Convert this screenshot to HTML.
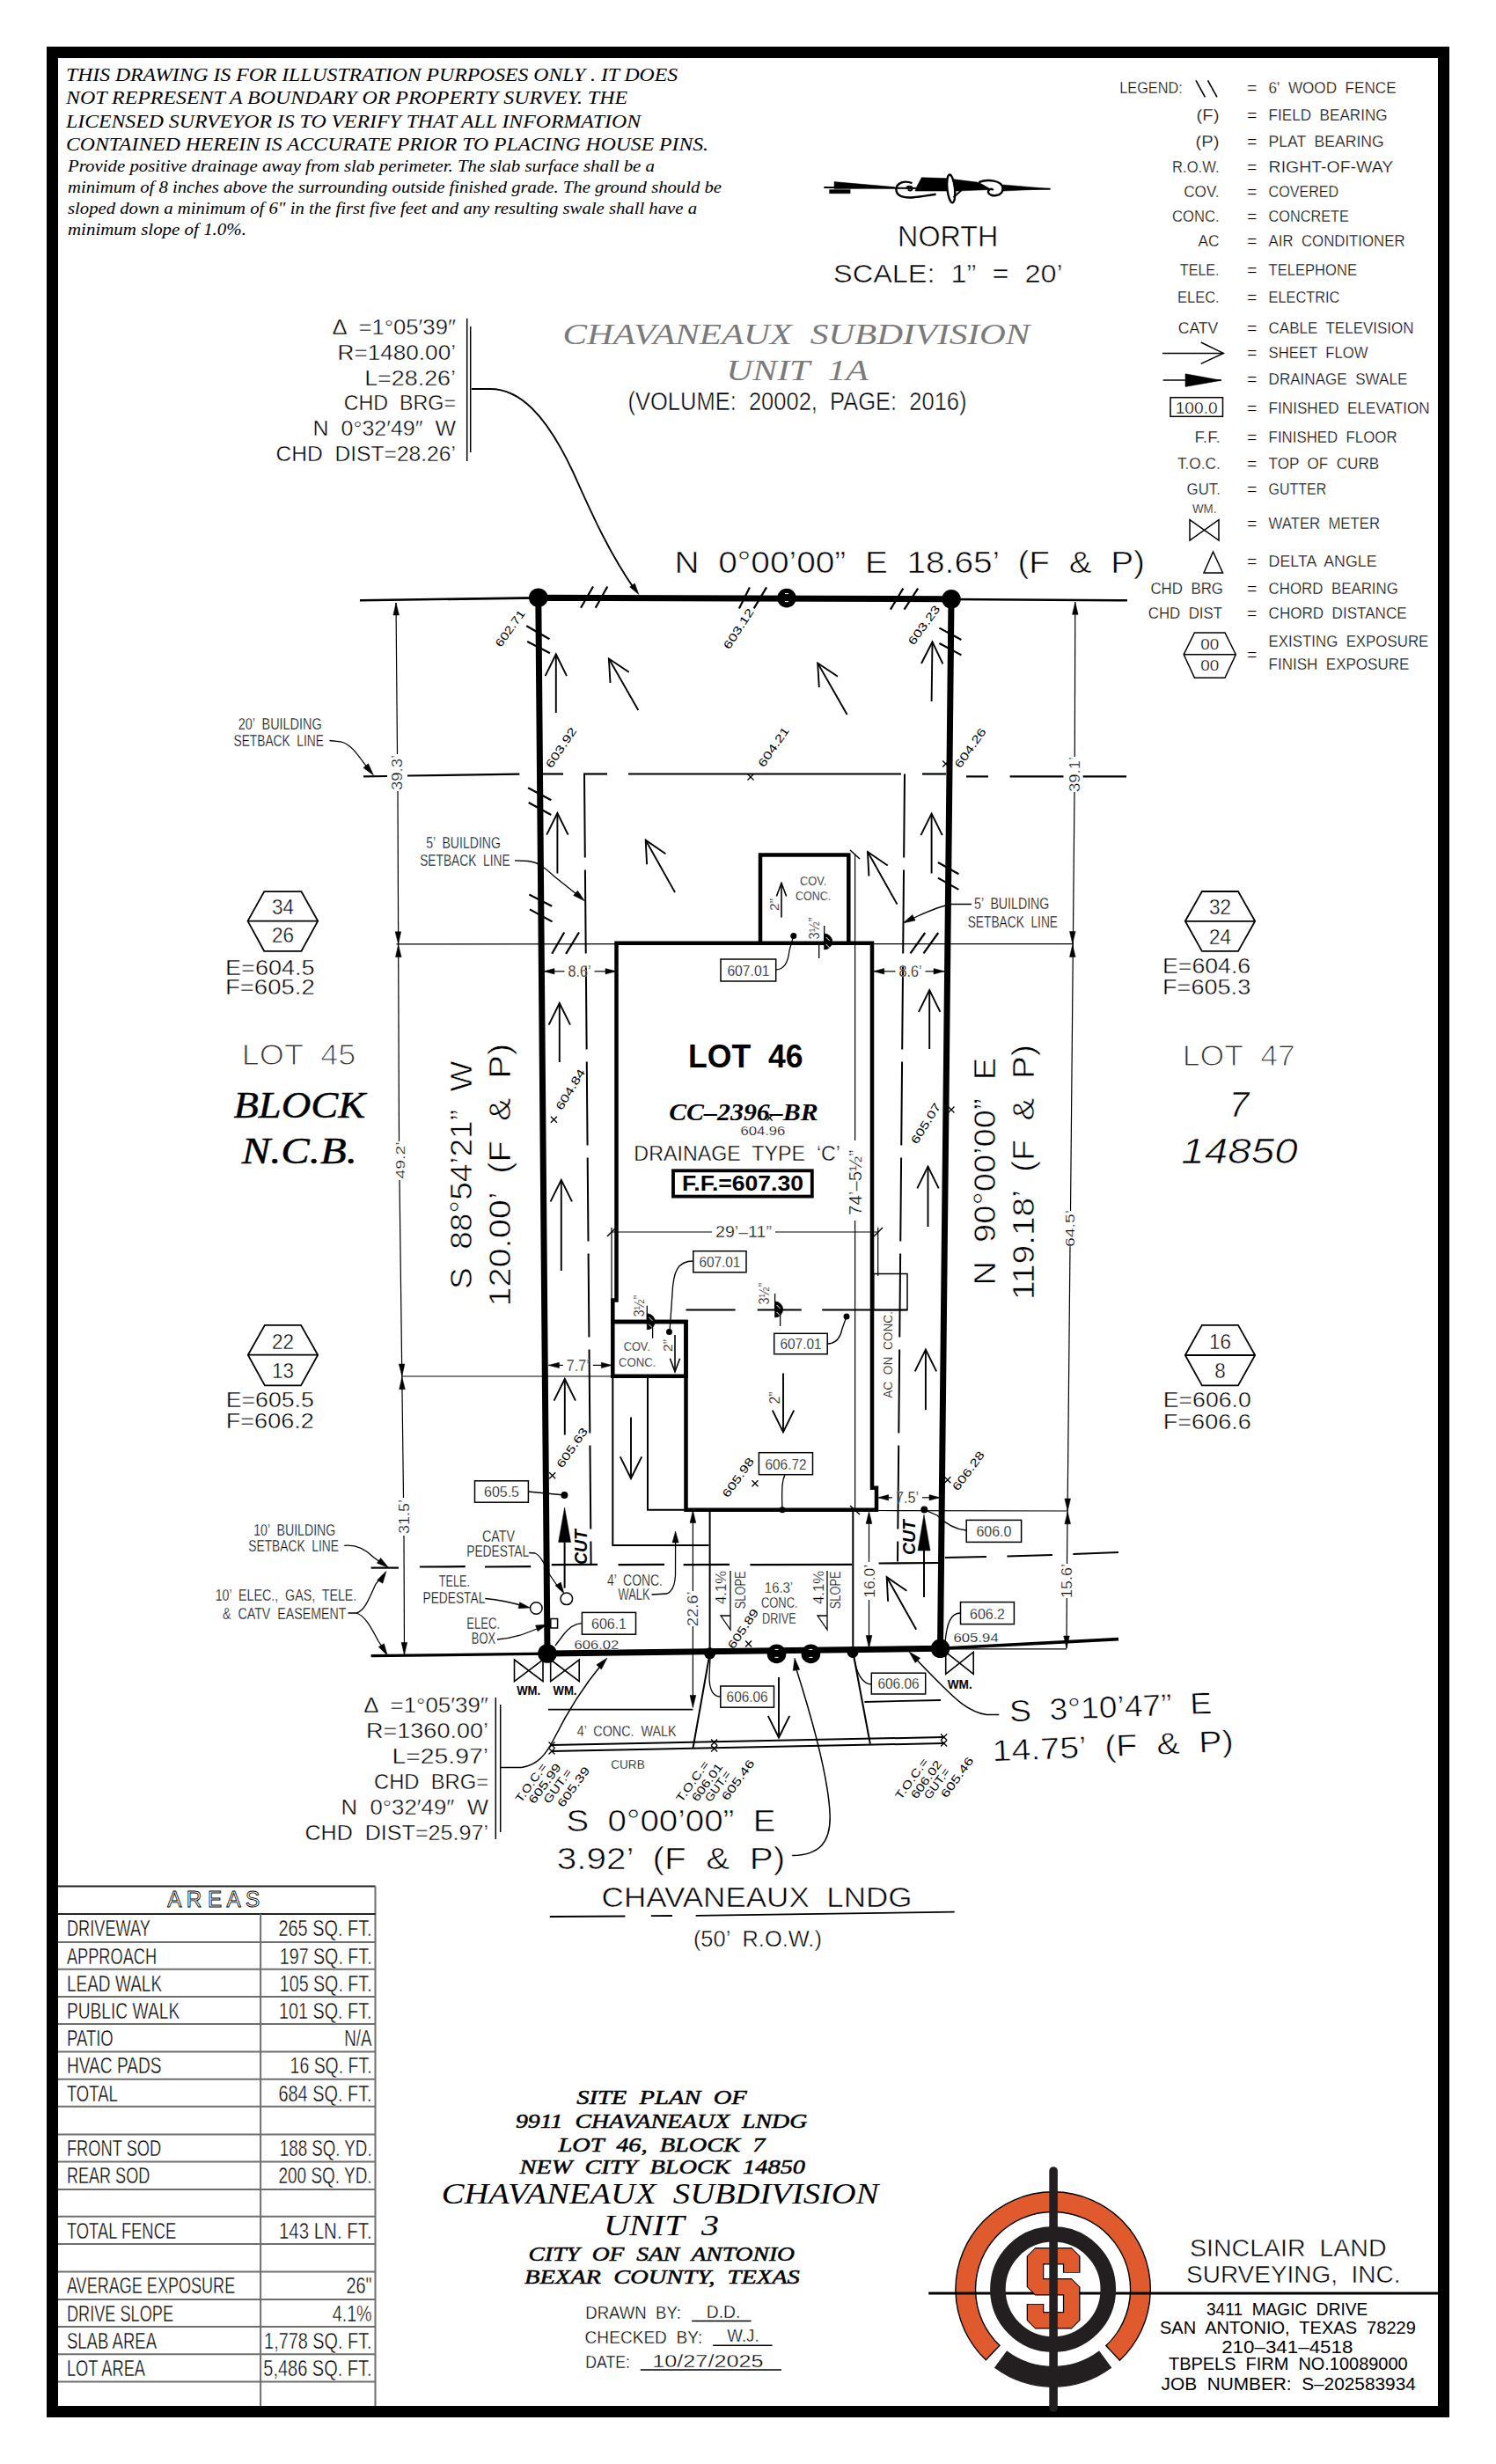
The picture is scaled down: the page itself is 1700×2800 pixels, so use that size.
<!DOCTYPE html>
<html><head><meta charset="utf-8"><title>Site Plan</title>
<style>
html,body{margin:0;padding:0;background:#fff;width:1700px;height:2800px;overflow:hidden}
svg{display:block}
text{white-space:pre}
</style></head><body>
<svg width="1700" height="2800" viewBox="0 0 1700 2800" font-family='"Liberation Sans", sans-serif' xml:space="preserve">
<rect x="0" y="0" width="1700" height="2800" fill="#fff"/>
<rect x="59.5" y="59.5" width="1581.0" height="2681.0" stroke="#000" stroke-width="13" fill="none"/>
<text x="75.0" y="91.5" font-size="22" textLength="695.0" lengthAdjust="spacingAndGlyphs" font-family='"Liberation Serif", serif' font-style="italic">THIS DRAWING IS FOR ILLUSTRATION PURPOSES ONLY . IT DOES</text>
<text x="75.0" y="118.3" font-size="22" textLength="638.0" lengthAdjust="spacingAndGlyphs" font-family='"Liberation Serif", serif' font-style="italic">NOT REPRESENT A BOUNDARY OR PROPERTY SURVEY. THE</text>
<text x="75.0" y="144.5" font-size="22" textLength="653.0" lengthAdjust="spacingAndGlyphs" font-family='"Liberation Serif", serif' font-style="italic">LICENSED SURVEYOR IS TO VERIFY THAT ALL INFORMATION</text>
<text x="75.0" y="171.0" font-size="22" textLength="730.0" lengthAdjust="spacingAndGlyphs" font-family='"Liberation Serif", serif' font-style="italic">CONTAINED HEREIN IS ACCURATE PRIOR TO PLACING HOUSE PINS.</text>
<text x="77.0" y="195.0" font-size="19.5" textLength="667.0" lengthAdjust="spacingAndGlyphs" font-family='"Liberation Serif", serif' font-style="italic">Provide positive drainage away from slab perimeter. The slab surface shall be a</text>
<text x="77.0" y="219.4" font-size="19.5" textLength="743.0" lengthAdjust="spacingAndGlyphs" font-family='"Liberation Serif", serif' font-style="italic">minimum of 8 inches above the surrounding outside finished grade. The ground should be</text>
<text x="77.0" y="242.6" font-size="19.5" textLength="715.0" lengthAdjust="spacingAndGlyphs" font-family='"Liberation Serif", serif' font-style="italic">sloped down a minimum of 6" in the first five feet and any resulting swale shall have a</text>
<text x="77.0" y="267.0" font-size="19.5" textLength="203.0" lengthAdjust="spacingAndGlyphs" font-family='"Liberation Serif", serif' font-style="italic">minimum slope of 1.0%.</text>
<text x="1272.2" y="106.0" font-size="17.5" textLength="71.6" lengthAdjust="spacingAndGlyphs" stroke="#fff" stroke-width="0.32">LEGEND:</text>
<line x1="1359.0" y1="91.4" x2="1369.4" y2="110.4" stroke="#000" stroke-width="1.6"/>
<line x1="1372.5" y1="91.4" x2="1383.0" y2="110.4" stroke="#000" stroke-width="1.6"/>
<text x="1422.7" y="106.0" font-size="17.5" text-anchor="middle" textLength="11.5" lengthAdjust="spacingAndGlyphs" stroke="#fff" stroke-width="0.32">=</text>
<text x="1441.6" y="106.0" font-size="17.5" textLength="145.0" lengthAdjust="spacingAndGlyphs" stroke="#fff" stroke-width="0.32">6'  WOOD  FENCE</text>
<text x="1385.6" y="136.5" font-size="17.5" text-anchor="end" textLength="26.0" lengthAdjust="spacingAndGlyphs" stroke="#fff" stroke-width="0.32">(F)</text>
<text x="1422.7" y="136.5" font-size="17.5" text-anchor="middle" textLength="11.5" lengthAdjust="spacingAndGlyphs" stroke="#fff" stroke-width="0.32">=</text>
<text x="1441.6" y="136.5" font-size="17.5" textLength="135.0" lengthAdjust="spacingAndGlyphs" stroke="#fff" stroke-width="0.32">FIELD  BEARING</text>
<text x="1385.6" y="167.0" font-size="17.5" text-anchor="end" textLength="27.0" lengthAdjust="spacingAndGlyphs" stroke="#fff" stroke-width="0.32">(P)</text>
<text x="1422.7" y="167.0" font-size="17.5" text-anchor="middle" textLength="11.5" lengthAdjust="spacingAndGlyphs" stroke="#fff" stroke-width="0.32">=</text>
<text x="1441.6" y="167.0" font-size="17.5" textLength="131.0" lengthAdjust="spacingAndGlyphs" stroke="#fff" stroke-width="0.32">PLAT  BEARING</text>
<text x="1385.6" y="196.4" font-size="17.5" text-anchor="end" textLength="53.5" lengthAdjust="spacingAndGlyphs" stroke="#fff" stroke-width="0.32">R.O.W.</text>
<text x="1422.7" y="196.4" font-size="17.5" text-anchor="middle" textLength="11.5" lengthAdjust="spacingAndGlyphs" stroke="#fff" stroke-width="0.32">=</text>
<text x="1441.6" y="196.4" font-size="17.5" textLength="141.6" lengthAdjust="spacingAndGlyphs" stroke="#fff" stroke-width="0.32">RIGHT-OF-WAY</text>
<text x="1385.6" y="223.8" font-size="17.5" text-anchor="end" textLength="40.4" lengthAdjust="spacingAndGlyphs" stroke="#fff" stroke-width="0.32">COV.</text>
<text x="1422.7" y="223.8" font-size="17.5" text-anchor="middle" textLength="11.5" lengthAdjust="spacingAndGlyphs" stroke="#fff" stroke-width="0.32">=</text>
<text x="1441.6" y="223.8" font-size="17.5" textLength="79.5" lengthAdjust="spacingAndGlyphs" stroke="#fff" stroke-width="0.32">COVERED</text>
<text x="1385.6" y="251.7" font-size="17.5" text-anchor="end" textLength="53.5" lengthAdjust="spacingAndGlyphs" stroke="#fff" stroke-width="0.32">CONC.</text>
<text x="1422.7" y="251.7" font-size="17.5" text-anchor="middle" textLength="11.5" lengthAdjust="spacingAndGlyphs" stroke="#fff" stroke-width="0.32">=</text>
<text x="1441.6" y="251.7" font-size="17.5" textLength="91.2" lengthAdjust="spacingAndGlyphs" stroke="#fff" stroke-width="0.32">CONCRETE</text>
<text x="1385.6" y="279.9" font-size="17.5" text-anchor="end" textLength="24.0" lengthAdjust="spacingAndGlyphs" stroke="#fff" stroke-width="0.32">AC</text>
<text x="1422.7" y="279.9" font-size="17.5" text-anchor="middle" textLength="11.5" lengthAdjust="spacingAndGlyphs" stroke="#fff" stroke-width="0.32">=</text>
<text x="1441.6" y="279.9" font-size="17.5" textLength="155.0" lengthAdjust="spacingAndGlyphs" stroke="#fff" stroke-width="0.32">AIR  CONDITIONER</text>
<text x="1385.6" y="313.0" font-size="17.5" text-anchor="end" textLength="44.8" lengthAdjust="spacingAndGlyphs" stroke="#fff" stroke-width="0.32">TELE.</text>
<text x="1422.7" y="313.0" font-size="17.5" text-anchor="middle" textLength="11.5" lengthAdjust="spacingAndGlyphs" stroke="#fff" stroke-width="0.32">=</text>
<text x="1441.6" y="313.0" font-size="17.5" textLength="100.4" lengthAdjust="spacingAndGlyphs" stroke="#fff" stroke-width="0.32">TELEPHONE</text>
<text x="1385.6" y="343.7" font-size="17.5" text-anchor="end" textLength="47.5" lengthAdjust="spacingAndGlyphs" stroke="#fff" stroke-width="0.32">ELEC.</text>
<text x="1422.7" y="343.7" font-size="17.5" text-anchor="middle" textLength="11.5" lengthAdjust="spacingAndGlyphs" stroke="#fff" stroke-width="0.32">=</text>
<text x="1441.6" y="343.7" font-size="17.5" textLength="80.8" lengthAdjust="spacingAndGlyphs" stroke="#fff" stroke-width="0.32">ELECTRIC</text>
<text x="1384.3" y="379.0" font-size="17.5" text-anchor="end" textLength="45.6" lengthAdjust="spacingAndGlyphs" stroke="#fff" stroke-width="0.32">CATV</text>
<text x="1422.7" y="379.0" font-size="17.5" text-anchor="middle" textLength="11.5" lengthAdjust="spacingAndGlyphs" stroke="#fff" stroke-width="0.32">=</text>
<text x="1441.6" y="379.0" font-size="17.5" textLength="165.0" lengthAdjust="spacingAndGlyphs" stroke="#fff" stroke-width="0.32">CABLE  TELEVISION</text>
<text x="1422.7" y="407.4" font-size="17.5" text-anchor="middle" textLength="11.5" lengthAdjust="spacingAndGlyphs" stroke="#fff" stroke-width="0.32">=</text>
<text x="1441.6" y="407.4" font-size="17.5" textLength="112.9" lengthAdjust="spacingAndGlyphs" stroke="#fff" stroke-width="0.32">SHEET  FLOW</text>
<line x1="1321.0" y1="401.4" x2="1390.3" y2="401.4" stroke="#000" stroke-width="1.5"/>
<polyline points="1364.7,389.0 1390.3,401.4 1364.7,413.4" stroke="#000" stroke-width="1.5" fill="none"/>
<text x="1422.7" y="436.8" font-size="17.5" text-anchor="middle" textLength="11.5" lengthAdjust="spacingAndGlyphs" stroke="#fff" stroke-width="0.32">=</text>
<text x="1441.6" y="436.8" font-size="17.5" textLength="157.7" lengthAdjust="spacingAndGlyphs" stroke="#fff" stroke-width="0.32">DRAINAGE  SWALE</text>
<line x1="1321.7" y1="432.0" x2="1388.0" y2="432.0" stroke="#000" stroke-width="1.5"/>
<polygon points="1347.0,424.8 1388.0,432.3 1347.0,439.4" stroke="#000" stroke-width="0.5" fill="#000"/>
<text x="1422.7" y="470.0" font-size="17.5" text-anchor="middle" textLength="11.5" lengthAdjust="spacingAndGlyphs" stroke="#fff" stroke-width="0.32">=</text>
<text x="1441.6" y="470.0" font-size="17.5" textLength="183.0" lengthAdjust="spacingAndGlyphs" stroke="#fff" stroke-width="0.32">FINISHED  ELEVATION</text>
<rect x="1330.0" y="451.7" width="59.5" height="21.6" stroke="#000" stroke-width="1.5" fill="none"/>
<text x="1359.7" y="469.5" font-size="17.5" text-anchor="middle" textLength="48.0" lengthAdjust="spacingAndGlyphs" stroke="#fff" stroke-width="0.32">100.0</text>
<text x="1386.9" y="502.5" font-size="17.5" text-anchor="end" textLength="29.5" lengthAdjust="spacingAndGlyphs" stroke="#fff" stroke-width="0.32">F.F.</text>
<text x="1422.7" y="502.5" font-size="17.5" text-anchor="middle" textLength="11.5" lengthAdjust="spacingAndGlyphs" stroke="#fff" stroke-width="0.32">=</text>
<text x="1441.6" y="502.5" font-size="17.5" textLength="146.0" lengthAdjust="spacingAndGlyphs" stroke="#fff" stroke-width="0.32">FINISHED  FLOOR</text>
<text x="1386.9" y="532.5" font-size="17.5" text-anchor="end" textLength="49.0" lengthAdjust="spacingAndGlyphs" stroke="#fff" stroke-width="0.32">T.O.C.</text>
<text x="1422.7" y="532.5" font-size="17.5" text-anchor="middle" textLength="11.5" lengthAdjust="spacingAndGlyphs" stroke="#fff" stroke-width="0.32">=</text>
<text x="1441.6" y="532.5" font-size="17.5" textLength="125.6" lengthAdjust="spacingAndGlyphs" stroke="#fff" stroke-width="0.32">TOP  OF  CURB</text>
<text x="1386.9" y="561.7" font-size="17.5" text-anchor="end" textLength="38.3" lengthAdjust="spacingAndGlyphs" stroke="#fff" stroke-width="0.32">GUT.</text>
<text x="1422.7" y="561.7" font-size="17.5" text-anchor="middle" textLength="11.5" lengthAdjust="spacingAndGlyphs" stroke="#fff" stroke-width="0.32">=</text>
<text x="1441.6" y="561.7" font-size="17.5" textLength="65.7" lengthAdjust="spacingAndGlyphs" stroke="#fff" stroke-width="0.32">GUTTER</text>
<text x="1355.0" y="583.3" font-size="14.5" textLength="27.4" lengthAdjust="spacingAndGlyphs" stroke="#fff" stroke-width="0.26">WM.</text>
<polygon points="1352.0,590.6 1385.0,614.0 1385.0,590.6 1352.0,614.0" stroke="#000" stroke-width="1.5" fill="none"/>
<text x="1422.7" y="601.0" font-size="17.5" text-anchor="middle" textLength="11.5" lengthAdjust="spacingAndGlyphs" stroke="#fff" stroke-width="0.32">=</text>
<text x="1441.6" y="601.0" font-size="17.5" textLength="126.4" lengthAdjust="spacingAndGlyphs" stroke="#fff" stroke-width="0.32">WATER  METER</text>
<polygon points="1378.5,627.0 1389.5,651.0 1368.0,651.0" stroke="#000" stroke-width="1.5" fill="none"/>
<text x="1422.7" y="643.8" font-size="17.5" text-anchor="middle" textLength="11.5" lengthAdjust="spacingAndGlyphs" stroke="#fff" stroke-width="0.32">=</text>
<text x="1441.6" y="643.8" font-size="17.5" textLength="123.0" lengthAdjust="spacingAndGlyphs" stroke="#fff" stroke-width="0.32">DELTA  ANGLE</text>
<text x="1390.0" y="675.4" font-size="17.5" text-anchor="end" textLength="82.6" lengthAdjust="spacingAndGlyphs" stroke="#fff" stroke-width="0.32">CHD  BRG</text>
<text x="1422.7" y="675.4" font-size="17.5" text-anchor="middle" textLength="11.5" lengthAdjust="spacingAndGlyphs" stroke="#fff" stroke-width="0.32">=</text>
<text x="1441.6" y="675.4" font-size="17.5" textLength="147.3" lengthAdjust="spacingAndGlyphs" stroke="#fff" stroke-width="0.32">CHORD  BEARING</text>
<text x="1389.0" y="703.3" font-size="17.5" text-anchor="end" textLength="84.2" lengthAdjust="spacingAndGlyphs" stroke="#fff" stroke-width="0.32">CHD  DIST</text>
<text x="1422.7" y="703.3" font-size="17.5" text-anchor="middle" textLength="11.5" lengthAdjust="spacingAndGlyphs" stroke="#fff" stroke-width="0.32">=</text>
<text x="1441.6" y="703.3" font-size="17.5" textLength="157.0" lengthAdjust="spacingAndGlyphs" stroke="#fff" stroke-width="0.32">CHORD  DISTANCE</text>
<polygon points="1345.2,743.7 1357.4,718.9 1392.0,718.9 1404.3,743.7 1392.0,770.2 1357.4,770.2" stroke="#000" stroke-width="1.5" fill="none"/>
<line x1="1345.2" y1="743.7" x2="1404.3" y2="743.7" stroke="#000" stroke-width="1.5"/>
<text x="1374.7" y="738.4" font-size="16" text-anchor="middle" textLength="21.0" lengthAdjust="spacingAndGlyphs" stroke="#fff" stroke-width="0.29">00</text>
<text x="1374.7" y="762.0" font-size="16" text-anchor="middle" textLength="21.0" lengthAdjust="spacingAndGlyphs" stroke="#fff" stroke-width="0.29">00</text>
<text x="1422.7" y="750.0" font-size="17.5" text-anchor="middle" textLength="11.5" lengthAdjust="spacingAndGlyphs" stroke="#fff" stroke-width="0.32">=</text>
<text x="1441.6" y="734.5" font-size="17.5" textLength="181.7" lengthAdjust="spacingAndGlyphs" stroke="#fff" stroke-width="0.32">EXISTING  EXPOSURE</text>
<text x="1441.6" y="760.6" font-size="17.5" textLength="159.8" lengthAdjust="spacingAndGlyphs" stroke="#fff" stroke-width="0.32">FINISH  EXPOSURE</text>
<line x1="936.3" y1="213.1" x2="1193.5" y2="214.8" stroke="#000" stroke-width="2.0"/>
<polygon points="948.0,206.6 1016.6,212.6 1016.6,213.6 948.0,214.6" stroke="#000" stroke-width="0.5" fill="#000"/>
<polygon points="942.6,215.6 966.1,215.6 966.1,219.8 942.6,219.8" stroke="#000" stroke-width="0.5" fill="#000"/>
<polygon points="1139.4,209.9 1193.5,214.6 1139.4,217.1" stroke="#000" stroke-width="0.5" fill="#000"/>
<polygon points="1047.3,201.7 1074.4,202.6 1110.5,207.1 1130.4,213.1 1130.4,215.3 1087.0,217.1 1040.0,217.1 1042.0,211.7" stroke="#000" stroke-width="0.5" fill="#000"/>
<path d="M1036.5,208.1 C1027.5,204.4 1018.4,208.1 1018.4,215.3 C1018.4,223.4 1027.5,225.2 1038.3,224.3 C1047.3,223.4 1056.4,221.6 1063.6,220.7" stroke="#000" stroke-width="2.4" fill="none"/>
<path d="M1030.2,214.4 C1030.2,210.8 1036.5,210.8 1036.5,214 C1036.5,217.1 1032.9,217.1 1032,215.3" stroke="#000" stroke-width="2.0" fill="none"/>
<path d="M1112.3,207.1 C1121.3,203.5 1139.4,204.4 1139.4,214.4 C1139.4,223.4 1125,224.3 1123.1,218.9 C1122.2,215.3 1126.8,213.5 1128.6,216.2" stroke="#000" stroke-width="2.4" fill="#fff"/>
<ellipse cx="1080.7" cy="214.4" rx="4.3" ry="16" fill="#fff" stroke="#000" stroke-width="2.4" transform="rotate(-6 1080.7 214.4)"/>
<line x1="1083.4" y1="224.3" x2="1092.5" y2="216.2" stroke="#000" stroke-width="2.0"/>
<text x="1077.2" y="280.3" font-size="34" text-anchor="middle" textLength="114.3" lengthAdjust="spacingAndGlyphs" stroke="#fff" stroke-width="0.61">NORTH</text>
<text x="1077.4" y="320.7" font-size="29" text-anchor="middle" textLength="260.7" lengthAdjust="spacingAndGlyphs" stroke="#fff" stroke-width="0.52">SCALE:  1”  =  20’</text>
<text x="904.9" y="391.2" font-size="34" text-anchor="middle" textLength="530.8" lengthAdjust="spacingAndGlyphs" font-family='"Liberation Serif", serif' font-style="italic" fill="#7a7a7a">CHAVANEAUX  SUBDIVISION</text>
<text x="906.0" y="431.6" font-size="34" text-anchor="middle" textLength="161.7" lengthAdjust="spacingAndGlyphs" font-family='"Liberation Serif", serif' font-style="italic" fill="#7a7a7a">UNIT  1A</text>
<text x="906.0" y="466.0" font-size="29.5" text-anchor="middle" textLength="385.0" lengthAdjust="spacingAndGlyphs" stroke="#fff" stroke-width="0.53">(VOLUME:  20002,  PAGE:  2016)</text>
<text x="518.0" y="380.0" font-size="23" text-anchor="end" textLength="140.5" lengthAdjust="spacingAndGlyphs" stroke="#fff" stroke-width="0.41">Δ  =1°05′39″</text>
<text x="518.0" y="408.7" font-size="23" text-anchor="end" textLength="134.5" lengthAdjust="spacingAndGlyphs" stroke="#fff" stroke-width="0.41">R=1480.00’</text>
<text x="518.0" y="438.0" font-size="23" text-anchor="end" textLength="103.8" lengthAdjust="spacingAndGlyphs" stroke="#fff" stroke-width="0.41">L=28.26’</text>
<text x="518.0" y="465.8" font-size="23" text-anchor="end" textLength="127.2" lengthAdjust="spacingAndGlyphs" stroke="#fff" stroke-width="0.41">CHD  BRG=</text>
<text x="518.0" y="495.0" font-size="23" text-anchor="end" textLength="162.4" lengthAdjust="spacingAndGlyphs" stroke="#fff" stroke-width="0.41">N  0°32′49″  W</text>
<text x="518.0" y="523.9" font-size="23" text-anchor="end" textLength="204.6" lengthAdjust="spacingAndGlyphs" stroke="#fff" stroke-width="0.41">CHD  DIST=28.26’</text>
<line x1="530.7" y1="362.0" x2="530.7" y2="524.0" stroke="#000" stroke-width="1.5"/>
<line x1="534.7" y1="371.0" x2="534.7" y2="514.0" stroke="#000" stroke-width="1.5"/>
<path d="M535.9,442 L557,442 C590,442 620,470 651,536 C670,578 690,625 722,671" stroke="#000" stroke-width="1.8" fill="none"/>
<polygon points="725.9,675.5 721.3,662.9 715.6,666.9" stroke="#000" stroke-width="0.5" fill="#000"/>
<line x1="409.0" y1="682.2" x2="611.0" y2="679.4" stroke="#000" stroke-width="2.6"/>
<line x1="1081.0" y1="681.0" x2="1281.0" y2="682.3" stroke="#000" stroke-width="2.6"/>
<line x1="421.6" y1="1881.6" x2="622.0" y2="1879.2" stroke="#000" stroke-width="3.2"/>
<line x1="1068.5" y1="1873.2" x2="1271.0" y2="1862.6" stroke="#000" stroke-width="3.6"/>
<line x1="1068.5" y1="1873.8" x2="1212.0" y2="1873.8" stroke="#000" stroke-width="1.2"/>
<polygon points="611.8,679.2 1081.0,680.8 1068.5,1873.3 622.0,1879.0" stroke="#000" stroke-width="7" fill="none" stroke-linejoin="round"/>
<line x1="839.9" y1="691.4" x2="851.9" y2="667.4" stroke="#000" stroke-width="2.2"/>
<line x1="856.7" y1="691.4" x2="871.1" y2="667.4" stroke="#000" stroke-width="2.2"/>
<line x1="1011.9" y1="692.6" x2="1026.3" y2="668.6" stroke="#000" stroke-width="2.2"/>
<line x1="1027.5" y1="692.6" x2="1043.2" y2="668.6" stroke="#000" stroke-width="2.2"/>
<line x1="660.0" y1="690.8" x2="674.0" y2="666.5" stroke="#000" stroke-width="2.2"/>
<line x1="676.7" y1="690.8" x2="690.3" y2="666.5" stroke="#000" stroke-width="2.2"/>
<line x1="598.3" y1="711.3" x2="624.4" y2="726.3" stroke="#000" stroke-width="2.2"/>
<line x1="599.2" y1="729.0" x2="625.0" y2="742.2" stroke="#000" stroke-width="2.2"/>
<line x1="600.1" y1="895.3" x2="626.3" y2="909.3" stroke="#000" stroke-width="2.2"/>
<line x1="600.7" y1="912.0" x2="626.3" y2="926.0" stroke="#000" stroke-width="2.2"/>
<line x1="601.4" y1="1016.6" x2="627.2" y2="1029.7" stroke="#000" stroke-width="2.2"/>
<line x1="602.0" y1="1033.4" x2="627.6" y2="1047.4" stroke="#000" stroke-width="2.2"/>
<line x1="627.2" y1="1083.8" x2="641.2" y2="1059.5" stroke="#000" stroke-width="2.2"/>
<line x1="643.1" y1="1083.8" x2="658.0" y2="1059.5" stroke="#000" stroke-width="2.2"/>
<line x1="1067.4" y1="713.6" x2="1092.4" y2="727.0" stroke="#000" stroke-width="2.2"/>
<line x1="1067.4" y1="731.0" x2="1092.4" y2="744.4" stroke="#000" stroke-width="2.2"/>
<line x1="1065.9" y1="980.0" x2="1089.4" y2="993.2" stroke="#000" stroke-width="2.2"/>
<line x1="1065.9" y1="997.6" x2="1089.4" y2="1010.9" stroke="#000" stroke-width="2.2"/>
<line x1="1034.5" y1="1083.4" x2="1051.2" y2="1060.0" stroke="#000" stroke-width="2.2"/>
<line x1="1049.5" y1="1083.4" x2="1066.2" y2="1060.0" stroke="#000" stroke-width="2.2"/>
<circle cx="611.8" cy="679.2" r="10.8" fill="#000"/>
<circle cx="1081.0" cy="680.8" r="10.8" fill="#000"/>
<circle cx="894.0" cy="679.6" r="10.8" fill="#000"/>
<circle cx="622.0" cy="1879.0" r="10.8" fill="#000"/>
<circle cx="1068.5" cy="1873.3" r="10.8" fill="#000"/>
<circle cx="882.5" cy="1879.4" r="10.8" fill="#000"/>
<circle cx="921.4" cy="1879.4" r="10.8" fill="#000"/>
<line x1="892.0" y1="674.6" x2="896.0" y2="674.6" stroke="#fff" stroke-width="1.0"/>
<line x1="892.0" y1="683.6" x2="896.0" y2="683.6" stroke="#fff" stroke-width="1.0"/>
<line x1="880.5" y1="1874.4" x2="884.5" y2="1874.4" stroke="#fff" stroke-width="1.0"/>
<line x1="880.5" y1="1883.4" x2="884.5" y2="1883.4" stroke="#fff" stroke-width="1.0"/>
<line x1="919.4" y1="1874.4" x2="923.4" y2="1874.4" stroke="#fff" stroke-width="1.0"/>
<line x1="919.4" y1="1883.4" x2="923.4" y2="1883.4" stroke="#fff" stroke-width="1.0"/>
<circle cx="806.6" cy="1878.8" r="6.5" fill="#000"/>
<circle cx="969.0" cy="1877.5" r="6.5" fill="#000"/>
<text x="766.5" y="650.8" font-size="35" textLength="534.5" lengthAdjust="spacingAndGlyphs" stroke="#fff" stroke-width="0.63">N  0°00’00”  E  18.65’  (F  &amp;  P)</text>
<text x="535.5" y="1465.0" font-size="35" textLength="259.4" lengthAdjust="spacingAndGlyphs" transform="rotate(-90 535.5 1465.0)" stroke="#fff" stroke-width="0.63">S  88°54’21”  W</text>
<text x="579.6" y="1484.7" font-size="35" textLength="299.0" lengthAdjust="spacingAndGlyphs" transform="rotate(-90 579.6 1484.7)" stroke="#fff" stroke-width="0.63">120.00’  (F  &amp;  P)</text>
<text x="1130.6" y="1460.6" font-size="35" textLength="258.8" lengthAdjust="spacingAndGlyphs" transform="rotate(-90 1130.6 1460.6)" stroke="#fff" stroke-width="0.63">N  90°00’00”  E</text>
<text x="1174.7" y="1477.0" font-size="35" textLength="290.0" lengthAdjust="spacingAndGlyphs" transform="rotate(-90 1174.7 1477.0)" stroke="#fff" stroke-width="0.63">119.18’  (F  &amp;  P)</text>
<text x="1147.4" y="1956.5" font-size="34.5" textLength="230.5" lengthAdjust="spacingAndGlyphs" transform="rotate(-2.4 1147.4 1956.5)" stroke="#fff" stroke-width="0.62">S  3°10’47”  E</text>
<text x="1128.1" y="2001.5" font-size="34.5" textLength="274.3" lengthAdjust="spacingAndGlyphs" transform="rotate(-2.4 1128.1 2001.5)" stroke="#fff" stroke-width="0.62">14.75’  (F  &amp;  P)</text>
<text x="643.5" y="2080.7" font-size="34.5" textLength="238.0" lengthAdjust="spacingAndGlyphs" stroke="#fff" stroke-width="0.62">S  0°00’00”  E</text>
<text x="632.8" y="2123.5" font-size="34.5" textLength="259.4" lengthAdjust="spacingAndGlyphs" stroke="#fff" stroke-width="0.62">3.92’  (F  &amp;  P)</text>
<text x="339.6" y="1210.4" font-size="33" text-anchor="middle" textLength="129.7" lengthAdjust="spacingAndGlyphs" fill="#333" stroke="#fff" stroke-width="1.1">LOT  45</text>
<text x="340.3" y="1269.8" font-size="42" text-anchor="middle" textLength="149.7" lengthAdjust="spacingAndGlyphs" font-family='"Liberation Serif", serif' font-style="italic" stroke="#000" stroke-width="0.45">BLOCK</text>
<text x="340.3" y="1322.0" font-size="42" text-anchor="middle" textLength="131.0" lengthAdjust="spacingAndGlyphs" font-family='"Liberation Serif", serif' font-style="italic" stroke="#000" stroke-width="0.45">N.C.B.</text>
<text x="1407.8" y="1210.6" font-size="33" text-anchor="middle" textLength="128.0" lengthAdjust="spacingAndGlyphs" fill="#333" stroke="#fff" stroke-width="1.1">LOT  47</text>
<text x="1408.0" y="1269.4" font-size="40" text-anchor="middle" textLength="22.6" lengthAdjust="spacingAndGlyphs" font-style="italic" stroke="#fff" stroke-width="0.72">7</text>
<text x="1408.5" y="1322.4" font-size="41" text-anchor="middle" textLength="132.3" lengthAdjust="spacingAndGlyphs" font-style="italic" stroke="#fff" stroke-width="0.74">14850</text>
<polygon points="281.5,1046.6 300.2,1013.2 342.5,1013.2 361.2,1046.6 342.5,1080.8 300.2,1080.8" stroke="#000" stroke-width="1.8" fill="none"/>
<line x1="281.5" y1="1046.6" x2="361.2" y2="1046.6" stroke="#000" stroke-width="1.8"/>
<text x="321.4" y="1039.4" font-size="24" text-anchor="middle" textLength="25.0" lengthAdjust="spacingAndGlyphs" stroke="#fff" stroke-width="0.43">34</text>
<text x="321.4" y="1071.4" font-size="24" text-anchor="middle" textLength="25.0" lengthAdjust="spacingAndGlyphs" stroke="#fff" stroke-width="0.43">26</text>
<text x="256.0" y="1107.5" font-size="24" textLength="101.7" lengthAdjust="spacingAndGlyphs" stroke="#fff" stroke-width="0.43">E=604.5</text>
<text x="256.0" y="1130.0" font-size="24" textLength="101.7" lengthAdjust="spacingAndGlyphs" stroke="#fff" stroke-width="0.43">F=605.2</text>
<polygon points="1346.8,1046.8 1365.9,1013.0 1407.0,1013.0 1426.2,1046.8 1407.0,1080.9 1365.9,1080.9" stroke="#000" stroke-width="1.8" fill="none"/>
<line x1="1346.8" y1="1046.8" x2="1426.2" y2="1046.8" stroke="#000" stroke-width="1.8"/>
<text x="1386.5" y="1039.4" font-size="24" text-anchor="middle" textLength="25.0" lengthAdjust="spacingAndGlyphs" stroke="#fff" stroke-width="0.43">32</text>
<text x="1386.5" y="1072.6" font-size="24" text-anchor="middle" textLength="25.0" lengthAdjust="spacingAndGlyphs" stroke="#fff" stroke-width="0.43">24</text>
<text x="1321.0" y="1106.2" font-size="24" textLength="100.2" lengthAdjust="spacingAndGlyphs" stroke="#fff" stroke-width="0.43">E=604.6</text>
<text x="1321.0" y="1129.7" font-size="24" textLength="100.2" lengthAdjust="spacingAndGlyphs" stroke="#fff" stroke-width="0.43">F=605.3</text>
<polygon points="281.8,1539.7 300.9,1505.9 342.0,1505.9 361.2,1539.7 342.0,1574.4 300.9,1574.4" stroke="#000" stroke-width="1.8" fill="none"/>
<line x1="281.8" y1="1539.7" x2="361.2" y2="1539.7" stroke="#000" stroke-width="1.8"/>
<text x="321.5" y="1533.2" font-size="24" text-anchor="middle" textLength="25.0" lengthAdjust="spacingAndGlyphs" stroke="#fff" stroke-width="0.43">22</text>
<text x="321.5" y="1565.6" font-size="24" text-anchor="middle" textLength="25.0" lengthAdjust="spacingAndGlyphs" stroke="#fff" stroke-width="0.43">13</text>
<text x="256.8" y="1599.4" font-size="24" textLength="100.0" lengthAdjust="spacingAndGlyphs" stroke="#fff" stroke-width="0.43">E=605.5</text>
<text x="256.8" y="1623.0" font-size="24" textLength="100.0" lengthAdjust="spacingAndGlyphs" stroke="#fff" stroke-width="0.43">F=606.2</text>
<polygon points="1346.8,1540.0 1365.9,1505.9 1407.0,1505.9 1426.2,1540.0 1407.0,1574.4 1365.9,1574.4" stroke="#000" stroke-width="1.8" fill="none"/>
<line x1="1346.8" y1="1540.0" x2="1426.2" y2="1540.0" stroke="#000" stroke-width="1.8"/>
<text x="1386.5" y="1533.2" font-size="24" text-anchor="middle" textLength="25.0" lengthAdjust="spacingAndGlyphs" stroke="#fff" stroke-width="0.43">16</text>
<text x="1386.5" y="1565.6" font-size="24" text-anchor="middle" textLength="12.5" lengthAdjust="spacingAndGlyphs" stroke="#fff" stroke-width="0.43">8</text>
<text x="1321.8" y="1599.4" font-size="24" textLength="100.0" lengthAdjust="spacingAndGlyphs" stroke="#fff" stroke-width="0.43">E=606.0</text>
<text x="1321.8" y="1623.5" font-size="24" textLength="100.0" lengthAdjust="spacingAndGlyphs" stroke="#fff" stroke-width="0.43">F=606.6</text>
<line x1="450.0" y1="685.0" x2="451.5" y2="857.0" stroke="#000" stroke-width="1.2"/>
<line x1="452.0" y1="899.0" x2="453.5" y2="1297.0" stroke="#000" stroke-width="1.2"/>
<line x1="454.0" y1="1341.0" x2="458.5" y2="1702.0" stroke="#000" stroke-width="1.2"/>
<line x1="459.0" y1="1745.0" x2="459.5" y2="1880.0" stroke="#000" stroke-width="1.2"/>
<polygon points="450.0,685.0 446.9,699.0 453.5,699.0" stroke="#000" stroke-width="0.5" fill="#000"/>
<polygon points="452.6,1072.8 455.7,1058.8 449.1,1058.8" stroke="#000" stroke-width="0.5" fill="#000"/>
<polygon points="452.6,1073.6 449.5,1087.6 456.1,1087.6" stroke="#000" stroke-width="0.5" fill="#000"/>
<polygon points="456.8,1564.0 459.9,1550.0 453.3,1550.0" stroke="#000" stroke-width="0.5" fill="#000"/>
<polygon points="456.8,1564.8 453.7,1578.8 460.3,1578.8" stroke="#000" stroke-width="0.5" fill="#000"/>
<polygon points="459.5,1880.5 462.7,1866.5 456.1,1866.5" stroke="#000" stroke-width="0.5" fill="#000"/>
<text x="451.6" y="878.0" font-size="17" text-anchor="middle" textLength="40.0" lengthAdjust="spacingAndGlyphs" transform="rotate(-90 451.6 878.0)" stroke="#fff" stroke-width="0.31" dominant-baseline="central">39.3’</text>
<text x="454.0" y="1318.5" font-size="15" text-anchor="middle" textLength="42.0" lengthAdjust="spacingAndGlyphs" transform="rotate(-90 454.0 1318.5)" stroke="#fff" stroke-width="0.27" dominant-baseline="central">49.2’</text>
<text x="459.0" y="1723.5" font-size="17" text-anchor="middle" textLength="39.0" lengthAdjust="spacingAndGlyphs" transform="rotate(-90 459.0 1723.5)" stroke="#fff" stroke-width="0.31" dominant-baseline="central">31.5’</text>
<line x1="1221.8" y1="684.0" x2="1221.3" y2="860.0" stroke="#000" stroke-width="1.2"/>
<line x1="1221.0" y1="900.0" x2="1216.5" y2="1376.0" stroke="#000" stroke-width="1.2"/>
<line x1="1216.0" y1="1416.0" x2="1212.5" y2="1777.0" stroke="#000" stroke-width="1.2"/>
<line x1="1212.3" y1="1816.0" x2="1212.0" y2="1873.0" stroke="#000" stroke-width="1.2"/>
<polygon points="1221.8,684.3 1218.5,698.3 1225.1,698.3" stroke="#000" stroke-width="0.5" fill="#000"/>
<polygon points="1218.8,1072.6 1222.1,1058.6 1215.5,1058.6" stroke="#000" stroke-width="0.5" fill="#000"/>
<polygon points="1218.8,1073.4 1215.5,1087.4 1222.1,1087.4" stroke="#000" stroke-width="0.5" fill="#000"/>
<polygon points="1213.2,1717.0 1216.5,1703.0 1209.9,1703.0" stroke="#000" stroke-width="0.5" fill="#000"/>
<polygon points="1213.2,1717.8 1209.9,1731.8 1216.5,1731.8" stroke="#000" stroke-width="0.5" fill="#000"/>
<polygon points="1212.0,1873.0 1215.3,1859.0 1208.7,1859.0" stroke="#000" stroke-width="0.5" fill="#000"/>
<text x="1221.0" y="880.0" font-size="17" text-anchor="middle" textLength="40.0" lengthAdjust="spacingAndGlyphs" transform="rotate(-90 1221.0 880.0)" stroke="#fff" stroke-width="0.31" dominant-baseline="central">39.1’</text>
<text x="1215.9" y="1396.0" font-size="15" text-anchor="middle" textLength="42.0" lengthAdjust="spacingAndGlyphs" transform="rotate(-90 1215.9 1396.0)" stroke="#fff" stroke-width="0.27" dominant-baseline="central">64.5’</text>
<text x="1212.5" y="1796.5" font-size="17" text-anchor="middle" textLength="39.0" lengthAdjust="spacingAndGlyphs" transform="rotate(-90 1212.5 1796.5)" stroke="#fff" stroke-width="0.31" dominant-baseline="central">15.6’</text>
<line x1="450.5" y1="1072.8" x2="1219.0" y2="1072.6" stroke="#000" stroke-width="1.2"/>
<line x1="456.8" y1="1564.0" x2="696.0" y2="1564.0" stroke="#000" stroke-width="1.2"/>
<line x1="996.0" y1="1716.5" x2="1213.0" y2="1717.0" stroke="#000" stroke-width="1.2"/>
<line x1="413.0" y1="882.4" x2="440.0" y2="882.0" stroke="#000" stroke-width="2.2"/>
<line x1="463.0" y1="881.5" x2="590.3" y2="879.7" stroke="#000" stroke-width="2.2"/>
<line x1="617.0" y1="879.5" x2="640.0" y2="879.5" stroke="#000" stroke-width="2.2"/>
<line x1="663.0" y1="879.5" x2="690.0" y2="879.5" stroke="#000" stroke-width="2.2"/>
<line x1="714.0" y1="879.5" x2="1024.0" y2="879.5" stroke="#000" stroke-width="2.2"/>
<line x1="1048.0" y1="879.5" x2="1075.0" y2="879.5" stroke="#000" stroke-width="2.2"/>
<line x1="1098.0" y1="882.4" x2="1123.0" y2="882.4" stroke="#000" stroke-width="2.2"/>
<line x1="1147.6" y1="882.4" x2="1208.5" y2="882.4" stroke="#000" stroke-width="2.2"/>
<line x1="1230.6" y1="882.4" x2="1280.0" y2="882.4" stroke="#000" stroke-width="2.2"/>
<line x1="421.6" y1="1781.6" x2="453.0" y2="1781.6" stroke="#000" stroke-width="2.2"/>
<line x1="476.9" y1="1780.5" x2="528.8" y2="1780.2" stroke="#000" stroke-width="2.2"/>
<line x1="551.0" y1="1780.5" x2="603.2" y2="1780.2" stroke="#000" stroke-width="2.2"/>
<line x1="626.8" y1="1778.2" x2="679.0" y2="1777.8" stroke="#000" stroke-width="2.2"/>
<line x1="702.6" y1="1778.2" x2="755.0" y2="1777.8" stroke="#000" stroke-width="2.2"/>
<line x1="776.6" y1="1778.2" x2="829.0" y2="1777.8" stroke="#000" stroke-width="2.2"/>
<line x1="852.4" y1="1778.2" x2="968.0" y2="1777.8" stroke="#000" stroke-width="2.2"/>
<line x1="998.6" y1="1776.5" x2="1067.0" y2="1776.0" stroke="#000" stroke-width="2.2"/>
<line x1="1073.8" y1="1770.0" x2="1120.9" y2="1769.0" stroke="#000" stroke-width="2.2"/>
<line x1="1144.4" y1="1768.5" x2="1195.9" y2="1767.0" stroke="#000" stroke-width="2.2"/>
<line x1="1219.4" y1="1766.0" x2="1271.0" y2="1764.0" stroke="#000" stroke-width="2.2"/>
<line x1="664" y1="879.5" x2="671.6" y2="1778" stroke="#000" stroke-width="2" stroke-dasharray="95 14"/>
<line x1="1028" y1="879.5" x2="1020" y2="1774.5" stroke="#000" stroke-width="2" stroke-dasharray="95 14"/>
<polygon points="700.5,1071.7 991.0,1071.7 991.0,1690.8 996.0,1690.8 996.0,1715.8 779.5,1715.8 779.5,1502.0 696.3,1502.0 696.3,1477.5 700.5,1477.5 700.5,1071.7" stroke="#000" stroke-width="4.5" fill="none"/>
<rect x="696.3" y="1502.0" width="83.2" height="61.8" stroke="#000" stroke-width="4.5" fill="none"/>
<polyline points="864.0,1071.7 864.0,971.4 964.3,971.4 964.3,1071.7" stroke="#000" stroke-width="4.5" fill="none"/>
<polyline points="696.3,1563.8 696.3,1756.0 805.5,1756.0" stroke="#000" stroke-width="2" fill="none"/>
<polyline points="736.0,1566.0 736.0,1715.8 779.5,1715.8" stroke="#000" stroke-width="2" fill="none"/>
<line x1="779.5" y1="1488.6" x2="835.6" y2="1488.6" stroke="#000" stroke-width="2"/>
<line x1="860.7" y1="1488.6" x2="910.8" y2="1488.6" stroke="#000" stroke-width="2"/>
<line x1="934.2" y1="1488.6" x2="1031.0" y2="1488.6" stroke="#000" stroke-width="2"/>
<rect x="992.7" y="1447.5" width="38.3" height="41.1" stroke="#000" stroke-width="1.5" fill="none"/>
<line x1="806.6" y1="1715.8" x2="806.6" y2="1878.8" stroke="#000" stroke-width="2"/>
<line x1="806.6" y1="1878.8" x2="787.4" y2="1987.0" stroke="#000" stroke-width="2"/>
<line x1="969.3" y1="1715.8" x2="969.3" y2="1877.5" stroke="#000" stroke-width="2"/>
<line x1="969.3" y1="1877.5" x2="988.9" y2="1981.7" stroke="#000" stroke-width="2"/>
<line x1="971.6" y1="970.8" x2="971.6" y2="1296.0" stroke="#000" stroke-width="1.2"/>
<line x1="971.6" y1="1387.0" x2="971.6" y2="1715.8" stroke="#000" stroke-width="1.2"/>
<line x1="966.0" y1="966.0" x2="977.0" y2="976.0" stroke="#000" stroke-width="1.5"/>
<line x1="966.0" y1="1711.0" x2="977.0" y2="1721.0" stroke="#000" stroke-width="1.5"/>
<line x1="695.0" y1="1400.0" x2="809.0" y2="1400.0" stroke="#000" stroke-width="1.2"/>
<line x1="881.0" y1="1400.0" x2="997.7" y2="1400.0" stroke="#000" stroke-width="1.2"/>
<line x1="690.0" y1="1405.0" x2="700.0" y2="1395.0" stroke="#000" stroke-width="1.5"/>
<line x1="993.0" y1="1405.0" x2="1003.0" y2="1395.0" stroke="#000" stroke-width="1.5"/>
<line x1="695.0" y1="1395.0" x2="695.0" y2="1477.0" stroke="#000" stroke-width="1.2"/>
<line x1="997.7" y1="1395.0" x2="997.7" y2="1450.0" stroke="#000" stroke-width="1.2"/>
<text x="845.0" y="1406.0" font-size="17.5" text-anchor="middle" textLength="64.0" lengthAdjust="spacingAndGlyphs" stroke="#fff" stroke-width="0.32">29’–11”</text>
<text x="978.5" y="1381.0" font-size="20" textLength="74.0" lengthAdjust="spacingAndGlyphs" transform="rotate(-90 978.5 1381.0)" stroke="#fff" stroke-width="0.36">74’–5½”</text>
<line x1="618.0" y1="1103.8" x2="641.5" y2="1103.8" stroke="#000" stroke-width="1.2"/>
<line x1="675.5" y1="1103.8" x2="700.0" y2="1103.8" stroke="#000" stroke-width="1.2"/>
<polygon points="618.0,1103.8 630.0,1107.0 630.0,1100.6" stroke="#000" stroke-width="0.5" fill="#000"/>
<polygon points="700.0,1103.8 688.0,1100.6 688.0,1107.0" stroke="#000" stroke-width="0.5" fill="#000"/>
<text x="658.5" y="1110.3" font-size="18" text-anchor="middle" textLength="26.0" lengthAdjust="spacingAndGlyphs" stroke="#fff" stroke-width="0.32">8.6’</text>
<line x1="992.7" y1="1103.8" x2="1017.5" y2="1103.8" stroke="#000" stroke-width="1.2"/>
<line x1="1051.5" y1="1103.8" x2="1073.0" y2="1103.8" stroke="#000" stroke-width="1.2"/>
<polygon points="992.7,1103.8 1004.7,1107.0 1004.7,1100.6" stroke="#000" stroke-width="0.5" fill="#000"/>
<polygon points="1073.0,1103.8 1061.0,1100.6 1061.0,1107.0" stroke="#000" stroke-width="0.5" fill="#000"/>
<text x="1034.5" y="1110.3" font-size="18" text-anchor="middle" textLength="26.0" lengthAdjust="spacingAndGlyphs" stroke="#fff" stroke-width="0.32">8.6’</text>
<line x1="623.4" y1="1551.4" x2="639.8" y2="1551.4" stroke="#000" stroke-width="1.2"/>
<line x1="673.8" y1="1551.4" x2="695.3" y2="1551.4" stroke="#000" stroke-width="1.2"/>
<polygon points="623.4,1551.4 635.4,1554.6 635.4,1548.2" stroke="#000" stroke-width="0.5" fill="#000"/>
<polygon points="695.3,1551.4 683.3,1548.2 683.3,1554.6" stroke="#000" stroke-width="0.5" fill="#000"/>
<text x="656.8" y="1557.9" font-size="18" text-anchor="middle" textLength="26.0" lengthAdjust="spacingAndGlyphs" stroke="#fff" stroke-width="0.32">7.7’</text>
<line x1="997.7" y1="1701.8" x2="1014.0" y2="1701.8" stroke="#000" stroke-width="1.2"/>
<line x1="1048.0" y1="1701.8" x2="1068.0" y2="1701.8" stroke="#000" stroke-width="1.2"/>
<polygon points="997.7,1701.8 1009.7,1705.0 1009.7,1698.6" stroke="#000" stroke-width="0.5" fill="#000"/>
<polygon points="1068.0,1701.8 1056.0,1698.6 1056.0,1705.0" stroke="#000" stroke-width="0.5" fill="#000"/>
<text x="1031.0" y="1708.3" font-size="18" text-anchor="middle" textLength="26.0" lengthAdjust="spacingAndGlyphs" stroke="#fff" stroke-width="0.32">7.5’</text>
<text x="847.3" y="1212.8" font-size="36" text-anchor="middle" textLength="130.5" lengthAdjust="spacingAndGlyphs" font-weight="bold">LOT  46</text>
<text x="844.9" y="1273.0" font-size="27" text-anchor="middle" textLength="169.4" lengthAdjust="spacingAndGlyphs" font-family='"Liberation Serif", serif' font-weight="bold" font-style="italic">CC–2396–BR</text>
<text x="866.9" y="1290.0" font-size="15" text-anchor="middle" textLength="51.0" lengthAdjust="spacingAndGlyphs" stroke="#fff" stroke-width="0.27">604.96</text>
<line x1="871.3" y1="1267.1" x2="877.7" y2="1273.5" stroke="#000" stroke-width="1.3"/>
<line x1="871.3" y1="1273.5" x2="877.7" y2="1267.1" stroke="#000" stroke-width="1.3"/>
<text x="837.7" y="1319.0" font-size="23" text-anchor="middle" textLength="234.7" lengthAdjust="spacingAndGlyphs" stroke="#fff" stroke-width="0.41">DRAINAGE  TYPE  ‘C’</text>
<rect x="765.0" y="1330.3" width="157.8" height="29.3" stroke="#000" stroke-width="3.8" fill="none"/>
<text x="844.0" y="1352.5" font-size="24.5" text-anchor="middle" textLength="138.0" lengthAdjust="spacingAndGlyphs" font-weight="bold">F.F.=607.30</text>
<text x="924.1" y="1005.9" font-size="15" text-anchor="middle" textLength="30.2" lengthAdjust="spacingAndGlyphs" stroke="#fff" stroke-width="0.27">COV.</text>
<text x="924.1" y="1023.2" font-size="15" text-anchor="middle" textLength="40.2" lengthAdjust="spacingAndGlyphs" stroke="#fff" stroke-width="0.27">CONC.</text>
<text x="723.7" y="1535.4" font-size="15" text-anchor="middle" textLength="30.1" lengthAdjust="spacingAndGlyphs" stroke="#fff" stroke-width="0.27">COV.</text>
<text x="724.2" y="1553.0" font-size="15" text-anchor="middle" textLength="42.4" lengthAdjust="spacingAndGlyphs" stroke="#fff" stroke-width="0.27">CONC.</text>
<text x="1014.5" y="1588.8" font-size="15" textLength="98.8" lengthAdjust="spacingAndGlyphs" transform="rotate(-90 1014.5 1588.8)" stroke="#fff" stroke-width="0.27">AC  ON  CONC.</text>
<line x1="631.8" y1="810.0" x2="631.8" y2="743.5" stroke="#000" stroke-width="1.9"/>
<polyline points="644.0,768.1 631.8,743.5 619.6,768.1" stroke="#000" stroke-width="1.9" fill="none"/>
<line x1="725.3" y1="807.0" x2="691.9" y2="748.5" stroke="#000" stroke-width="1.9"/>
<polyline points="714.7,763.8 691.9,748.5 693.5,776.0" stroke="#000" stroke-width="1.9" fill="none"/>
<line x1="962.6" y1="812.0" x2="929.2" y2="753.5" stroke="#000" stroke-width="1.9"/>
<polyline points="952.0,768.8 929.2,753.5 930.8,781.0" stroke="#000" stroke-width="1.9" fill="none"/>
<line x1="1058.6" y1="797.0" x2="1059.5" y2="729.5" stroke="#000" stroke-width="1.9"/>
<polyline points="1071.4,754.3 1059.5,729.5 1047.0,754.0" stroke="#000" stroke-width="1.9" fill="none"/>
<line x1="633.4" y1="992.5" x2="633.4" y2="924.0" stroke="#000" stroke-width="1.9"/>
<polyline points="645.6,948.6 633.4,924.0 621.2,948.6" stroke="#000" stroke-width="1.9" fill="none"/>
<line x1="767.0" y1="1014.0" x2="733.7" y2="954.7" stroke="#000" stroke-width="1.9"/>
<polyline points="756.4,970.2 733.7,954.7 735.1,982.2" stroke="#000" stroke-width="1.9" fill="none"/>
<line x1="1019.5" y1="1027.6" x2="986.0" y2="968.0" stroke="#000" stroke-width="1.9"/>
<polyline points="1008.7,983.5 986.0,968.0 987.4,995.5" stroke="#000" stroke-width="1.9" fill="none"/>
<line x1="1058.6" y1="992.5" x2="1058.6" y2="924.6" stroke="#000" stroke-width="1.9"/>
<polyline points="1070.8,949.2 1058.6,924.6 1046.4,949.2" stroke="#000" stroke-width="1.9" fill="none"/>
<line x1="635.8" y1="1207.0" x2="635.8" y2="1140.0" stroke="#000" stroke-width="1.9"/>
<polyline points="648.0,1164.6 635.8,1140.0 623.6,1164.6" stroke="#000" stroke-width="1.9" fill="none"/>
<line x1="637.8" y1="1444.0" x2="637.8" y2="1340.8" stroke="#000" stroke-width="1.9"/>
<polyline points="650.0,1365.4 637.8,1340.8 625.6,1365.4" stroke="#000" stroke-width="1.9" fill="none"/>
<line x1="1056.2" y1="1192.0" x2="1056.2" y2="1125.2" stroke="#000" stroke-width="1.9"/>
<polyline points="1068.4,1149.8 1056.2,1125.2 1044.0,1149.8" stroke="#000" stroke-width="1.9" fill="none"/>
<line x1="1054.5" y1="1394.0" x2="1054.5" y2="1325.7" stroke="#000" stroke-width="1.9"/>
<polyline points="1066.7,1350.3 1054.5,1325.7 1042.3,1350.3" stroke="#000" stroke-width="1.9" fill="none"/>
<line x1="641.8" y1="1630.6" x2="641.8" y2="1567.0" stroke="#000" stroke-width="1.9"/>
<polyline points="654.0,1591.6 641.8,1567.0 629.6,1591.6" stroke="#000" stroke-width="1.9" fill="none"/>
<line x1="717.0" y1="1610.6" x2="717.0" y2="1680.0" stroke="#000" stroke-width="1.9"/>
<polyline points="704.8,1655.4 717.0,1680.0 729.2,1655.4" stroke="#000" stroke-width="1.9" fill="none"/>
<line x1="1051.9" y1="1602.2" x2="1051.9" y2="1533.7" stroke="#000" stroke-width="1.9"/>
<polyline points="1064.1,1558.3 1051.9,1533.7 1039.7,1558.3" stroke="#000" stroke-width="1.9" fill="none"/>
<line x1="1041.2" y1="1851.8" x2="1007.7" y2="1792.2" stroke="#000" stroke-width="1.9"/>
<polyline points="1030.4,1807.7 1007.7,1792.2 1009.1,1819.7" stroke="#000" stroke-width="1.9" fill="none"/>
<line x1="885.0" y1="1906.0" x2="885.0" y2="1974.5" stroke="#000" stroke-width="1.9"/>
<polyline points="872.8,1949.9 885.0,1974.5 897.2,1949.9" stroke="#000" stroke-width="1.9" fill="none"/>
<line x1="890.0" y1="1560.4" x2="890.0" y2="1627.3" stroke="#000" stroke-width="1.9"/>
<polyline points="877.8,1602.7 890.0,1627.3 902.2,1602.7" stroke="#000" stroke-width="1.9" fill="none"/>
<line x1="888.0" y1="1042.6" x2="888.0" y2="1003.5" stroke="#000" stroke-width="1.6"/>
<polyline points="893.6,1018.5 888.0,1003.5 882.4,1018.5" stroke="#000" stroke-width="1.6" fill="none"/>
<line x1="767.0" y1="1517.0" x2="767.0" y2="1558.8" stroke="#000" stroke-width="1.6"/>
<polyline points="761.4,1543.8 767.0,1558.8 772.6,1543.8" stroke="#000" stroke-width="1.6" fill="none"/>
<text x="885.0" y="1035.0" font-size="15" textLength="14.0" lengthAdjust="spacingAndGlyphs" transform="rotate(-90 885.0 1035.0)" stroke="#fff" stroke-width="0.27">2”</text>
<text x="763.5" y="1536.0" font-size="15" textLength="14.0" lengthAdjust="spacingAndGlyphs" transform="rotate(-90 763.5 1536.0)" stroke="#fff" stroke-width="0.27">2”</text>
<text x="885.5" y="1595.5" font-size="17" textLength="14.0" lengthAdjust="spacingAndGlyphs" transform="rotate(-90 885.5 1595.5)" stroke="#fff" stroke-width="0.31">2”</text>
<path d="M936.7,1061 A9,9 0 0,1 936.7,1079 Z" stroke="#000" stroke-width="0.8" fill="#000"/>
<line x1="938.7" y1="1065.0" x2="942.7" y2="1069.0" stroke="#fff" stroke-width="1.0"/>
<line x1="938.7" y1="1073.0" x2="942.7" y2="1077.0" stroke="#fff" stroke-width="1.0"/>
<line x1="936.7" y1="1052.0" x2="936.7" y2="1070.0" stroke="#000" stroke-width="1.3"/>
<line x1="930.7" y1="1070.0" x2="930.7" y2="1089.0" stroke="#000" stroke-width="1.3"/>
<text x="930.8" y="1067.4" font-size="17" textLength="25.0" lengthAdjust="spacingAndGlyphs" transform="rotate(-90 930.8 1067.4)" stroke="#fff" stroke-width="0.31">3½”</text>
<path d="M735.3,1492.8 A9,9 0 0,1 735.3,1510.8 Z" stroke="#000" stroke-width="0.8" fill="#000"/>
<line x1="737.3" y1="1496.8" x2="741.3" y2="1500.8" stroke="#fff" stroke-width="1.0"/>
<line x1="737.3" y1="1504.8" x2="741.3" y2="1508.8" stroke="#fff" stroke-width="1.0"/>
<line x1="735.3" y1="1483.8" x2="735.3" y2="1501.8" stroke="#000" stroke-width="1.3"/>
<line x1="741.6" y1="1501.8" x2="741.6" y2="1520.8" stroke="#000" stroke-width="1.3"/>
<text x="732.4" y="1496.6" font-size="17" textLength="25.0" lengthAdjust="spacingAndGlyphs" transform="rotate(-90 732.4 1496.6)" stroke="#fff" stroke-width="0.31">3½”</text>
<path d="M880.6,1479 A9,9 0 0,1 880.6,1497 Z" stroke="#000" stroke-width="0.8" fill="#000"/>
<line x1="882.6" y1="1483.0" x2="886.6" y2="1487.0" stroke="#fff" stroke-width="1.0"/>
<line x1="882.6" y1="1491.0" x2="886.6" y2="1495.0" stroke="#fff" stroke-width="1.0"/>
<line x1="880.6" y1="1470.0" x2="880.6" y2="1488.0" stroke="#000" stroke-width="1.3"/>
<line x1="886.6" y1="1488.0" x2="886.6" y2="1507.0" stroke="#000" stroke-width="1.3"/>
<text x="874.3" y="1482.6" font-size="17" textLength="25.0" lengthAdjust="spacingAndGlyphs" transform="rotate(-90 874.3 1482.6)" stroke="#fff" stroke-width="0.31">3½”</text>
<text x="579.6" y="714" font-size="12.8" text-anchor="middle" dominant-baseline="central" textLength="48" lengthAdjust="spacingAndGlyphs" transform="rotate(-54.5 579.6 714)">602.71</text>
<text x="839.2" y="714.4" font-size="12.8" text-anchor="middle" dominant-baseline="central" textLength="52" lengthAdjust="spacingAndGlyphs" transform="rotate(-56.8 839.2 714.4)">603.12</text>
<text x="1049.9" y="710.3" font-size="12.8" text-anchor="middle" dominant-baseline="central" textLength="52" lengthAdjust="spacingAndGlyphs" transform="rotate(-53.9 1049.9 710.3)">603.23</text>
<text x="637.5" y="849.5" font-size="12.8" text-anchor="middle" dominant-baseline="central" textLength="52" lengthAdjust="spacingAndGlyphs" transform="rotate(-56.3 637.5 849.5)">603.92</text>
<text x="879" y="848.7" font-size="12.8" text-anchor="middle" dominant-baseline="central" textLength="52" lengthAdjust="spacingAndGlyphs" transform="rotate(-55.3 879 848.7)">604.21</text>
<text x="1102.6" y="849.8" font-size="12.8" text-anchor="middle" dominant-baseline="central" textLength="52" lengthAdjust="spacingAndGlyphs" transform="rotate(-54.7 1102.6 849.8)">604.26</text>
<text x="648" y="1238" font-size="12.8" text-anchor="middle" dominant-baseline="central" textLength="52" lengthAdjust="spacingAndGlyphs" transform="rotate(-58.8 648 1238)">604.84</text>
<text x="1052" y="1276.5" font-size="12.8" text-anchor="middle" dominant-baseline="central" textLength="52" lengthAdjust="spacingAndGlyphs" transform="rotate(-57.8 1052 1276.5)">605.07</text>
<text x="650" y="1645" font-size="12.8" text-anchor="middle" dominant-baseline="central" textLength="52" lengthAdjust="spacingAndGlyphs" transform="rotate(-55.3 650 1645)">605.63</text>
<text x="838.7" y="1679" font-size="12.8" text-anchor="middle" dominant-baseline="central" textLength="52" lengthAdjust="spacingAndGlyphs" transform="rotate(-54.7 838.7 1679)">605.98</text>
<text x="1100.3" y="1671.5" font-size="12.8" text-anchor="middle" dominant-baseline="central" textLength="52" lengthAdjust="spacingAndGlyphs" transform="rotate(-53.6 1100.3 1671.5)">606.28</text>
<text x="844.3" y="1850.8" font-size="12.8" text-anchor="middle" dominant-baseline="central" textLength="52" lengthAdjust="spacingAndGlyphs" transform="rotate(-55.8 844.3 1850.8)">605.89</text>
<line x1="849.5" y1="879.5" x2="856.5" y2="886.5" stroke="#000" stroke-width="1.3"/>
<line x1="849.5" y1="886.5" x2="856.5" y2="879.5" stroke="#000" stroke-width="1.3"/>
<line x1="1071.2" y1="864.5" x2="1078.2" y2="871.5" stroke="#000" stroke-width="1.3"/>
<line x1="1071.2" y1="871.5" x2="1078.2" y2="864.5" stroke="#000" stroke-width="1.3"/>
<line x1="625.9" y1="1268.8" x2="632.9" y2="1275.8" stroke="#000" stroke-width="1.3"/>
<line x1="625.9" y1="1275.8" x2="632.9" y2="1268.8" stroke="#000" stroke-width="1.3"/>
<line x1="1077.5" y1="1257.5" x2="1084.5" y2="1264.5" stroke="#000" stroke-width="1.3"/>
<line x1="1077.5" y1="1264.5" x2="1084.5" y2="1257.5" stroke="#000" stroke-width="1.3"/>
<line x1="624.2" y1="1673.2" x2="631.2" y2="1680.2" stroke="#000" stroke-width="1.3"/>
<line x1="624.2" y1="1680.2" x2="631.2" y2="1673.2" stroke="#000" stroke-width="1.3"/>
<line x1="854.5" y1="1682.3" x2="861.5" y2="1689.3" stroke="#000" stroke-width="1.3"/>
<line x1="854.5" y1="1689.3" x2="861.5" y2="1682.3" stroke="#000" stroke-width="1.3"/>
<line x1="1073.3" y1="1678.3" x2="1080.3" y2="1685.3" stroke="#000" stroke-width="1.3"/>
<line x1="1073.3" y1="1685.3" x2="1080.3" y2="1678.3" stroke="#000" stroke-width="1.3"/>
<line x1="847.1" y1="1864.5" x2="854.1" y2="1871.5" stroke="#000" stroke-width="1.3"/>
<line x1="847.1" y1="1871.5" x2="854.1" y2="1864.5" stroke="#000" stroke-width="1.3"/>
<rect x="819.0" y="1090.0" width="62.7" height="25.0" stroke="#000" stroke-width="1.5" fill="none"/>
<text x="850.4" y="1109.0" font-size="17" text-anchor="middle" textLength="48.0" lengthAdjust="spacingAndGlyphs" stroke="#fff" stroke-width="0.31">607.01</text>
<path d="M881.7,1101.8 C893,1101.8 896,1090 897,1080 L901.8,1063.4" stroke="#000" stroke-width="1.3" fill="none"/>
<circle cx="901.8" cy="1063.4" r="3.5" fill="#000"/>
<rect x="787.8" y="1421.7" width="60.2" height="24.1" stroke="#000" stroke-width="1.5" fill="none"/>
<text x="817.9" y="1439.8" font-size="17" text-anchor="middle" textLength="47.0" lengthAdjust="spacingAndGlyphs" stroke="#fff" stroke-width="0.31">607.01</text>
<path d="M787.8,1433 C770,1433 765,1445 764,1470 L761,1513" stroke="#000" stroke-width="1.3" fill="none"/>
<circle cx="760.5" cy="1513.6" r="3.5" fill="#000"/>
<rect x="879.7" y="1515.3" width="60.5" height="23.4" stroke="#000" stroke-width="1.5" fill="none"/>
<text x="910.0" y="1532.7" font-size="17" text-anchor="middle" textLength="47.0" lengthAdjust="spacingAndGlyphs" stroke="#fff" stroke-width="0.31">607.01</text>
<path d="M940.2,1527 C950,1527 955,1520 957,1510 L962,1496" stroke="#000" stroke-width="1.3" fill="none"/>
<circle cx="962.0" cy="1496.0" r="3.5" fill="#000"/>
<rect x="862.4" y="1650.7" width="61.1" height="25.0" stroke="#000" stroke-width="1.5" fill="none"/>
<text x="893.0" y="1669.7" font-size="17" text-anchor="middle" textLength="47.0" lengthAdjust="spacingAndGlyphs" stroke="#fff" stroke-width="0.31">606.72</text>
<path d="M892,1675.7 C889,1682 888,1690 889,1715.8" stroke="#000" stroke-width="1.3" fill="none"/>
<circle cx="889.0" cy="1715.8" r="3.5" fill="#000"/>
<rect x="539.5" y="1682.8" width="60.9" height="24.4" stroke="#000" stroke-width="1.5" fill="none"/>
<text x="570.0" y="1701.2" font-size="17" text-anchor="middle" textLength="40.0" lengthAdjust="spacingAndGlyphs" stroke="#fff" stroke-width="0.31">605.5</text>
<line x1="600.4" y1="1695.0" x2="641.4" y2="1699.0" stroke="#000" stroke-width="1.3"/>
<circle cx="641.4" cy="1699.0" r="4" fill="#000"/>
<rect x="1098.2" y="1727.4" width="62.4" height="25.0" stroke="#000" stroke-width="1.5" fill="none"/>
<text x="1129.4" y="1746.4" font-size="17" text-anchor="middle" textLength="40.0" lengthAdjust="spacingAndGlyphs" stroke="#fff" stroke-width="0.31">606.0</text>
<path d="M1098.2,1739 C1085,1738 1075,1732 1065,1722 L1050.3,1715.6" stroke="#000" stroke-width="1.3" fill="none"/>
<circle cx="1050.3" cy="1715.6" r="4" fill="#000"/>
<rect x="661.4" y="1832.4" width="61.1" height="24.8" stroke="#000" stroke-width="1.5" fill="none"/>
<text x="692.0" y="1851.2" font-size="17" text-anchor="middle" textLength="40.0" lengthAdjust="spacingAndGlyphs" stroke="#fff" stroke-width="0.31">606.1</text>
<path d="M661.4,1844.6 C652,1845 646,1850 640,1858 L631,1870" stroke="#000" stroke-width="1.3" fill="none"/>
<rect x="1091.5" y="1820.6" width="60.9" height="25.0" stroke="#000" stroke-width="1.5" fill="none"/>
<text x="1122.0" y="1839.6" font-size="17" text-anchor="middle" textLength="40.0" lengthAdjust="spacingAndGlyphs" stroke="#fff" stroke-width="0.31">606.2</text>
<path d="M1091.5,1833 C1080,1833 1076,1845 1074,1866" stroke="#000" stroke-width="1.3" fill="none"/>
<rect x="818.8" y="1916.0" width="60.7" height="24.2" stroke="#000" stroke-width="1.5" fill="none"/>
<text x="849.1" y="1934.2" font-size="17" text-anchor="middle" textLength="47.0" lengthAdjust="spacingAndGlyphs" stroke="#fff" stroke-width="0.31">606.06</text>
<path d="M818.8,1928 C810,1928 806,1920 806,1905 L807,1884" stroke="#000" stroke-width="1.3" fill="none"/>
<rect x="990.3" y="1901.2" width="61.4" height="23.8" stroke="#000" stroke-width="1.5" fill="none"/>
<text x="1021.0" y="1919.0" font-size="17" text-anchor="middle" textLength="47.0" lengthAdjust="spacingAndGlyphs" stroke="#fff" stroke-width="0.31">606.06</text>
<path d="M990.3,1914 C982,1914 976,1905 973,1895 L970,1881" stroke="#000" stroke-width="1.3" fill="none"/>
<text x="652.6" y="1873.8" font-size="14.5" textLength="50.6" lengthAdjust="spacingAndGlyphs" stroke="#fff" stroke-width="0.26">606.02</text>
<text x="1083.5" y="1865.6" font-size="14.5" textLength="51.2" lengthAdjust="spacingAndGlyphs" stroke="#fff" stroke-width="0.26">605.94</text>
<text x="270.8" y="828.7" font-size="17.5" textLength="94.9" lengthAdjust="spacingAndGlyphs" stroke="#fff" stroke-width="0.32">20’  BUILDING</text>
<text x="265.5" y="847.6" font-size="17.5" textLength="102.4" lengthAdjust="spacingAndGlyphs" stroke="#fff" stroke-width="0.32">SETBACK  LINE</text>
<path d="M374.5,841.5 L387,842.8 C398,845 405,855 420,876" stroke="#000" stroke-width="1.3" fill="none"/>
<polygon points="424.5,881.0 418.5,867.8 412.9,872.4" stroke="#000" stroke-width="0.5" fill="#000"/>
<text x="484.2" y="964.0" font-size="17.5" textLength="84.8" lengthAdjust="spacingAndGlyphs" stroke="#fff" stroke-width="0.32">5’  BUILDING</text>
<text x="477.2" y="983.7" font-size="17.5" textLength="102.4" lengthAdjust="spacingAndGlyphs" stroke="#fff" stroke-width="0.32">SETBACK  LINE</text>
<path d="M585,977.9 L600,978.5 C612,980 618,985 630,996 L660,1020" stroke="#000" stroke-width="1.3" fill="none"/>
<polygon points="664.6,1024.0 656.4,1012.1 651.7,1017.5" stroke="#000" stroke-width="0.5" fill="#000"/>
<text x="1107.0" y="1033.0" font-size="17.5" textLength="85.4" lengthAdjust="spacingAndGlyphs" stroke="#fff" stroke-width="0.32">5’  BUILDING</text>
<text x="1099.7" y="1053.5" font-size="17.5" textLength="102.3" lengthAdjust="spacingAndGlyphs" stroke="#fff" stroke-width="0.32">SETBACK  LINE</text>
<path d="M1104,1027.5 L1081,1027.5 C1065,1030 1050,1038 1032,1046" stroke="#000" stroke-width="1.3" fill="none"/>
<polygon points="1026.0,1049.0 1040.1,1046.0 1036.9,1039.5" stroke="#000" stroke-width="0.5" fill="#000"/>
<text x="288.2" y="1744.6" font-size="17.5" textLength="93.2" lengthAdjust="spacingAndGlyphs" stroke="#fff" stroke-width="0.32">10’  BUILDING</text>
<text x="282.3" y="1762.8" font-size="17.5" textLength="102.7" lengthAdjust="spacingAndGlyphs" stroke="#fff" stroke-width="0.32">SETBACK  LINE</text>
<path d="M391.2,1756.4 C405,1755 415,1760 425,1770 L436,1778" stroke="#000" stroke-width="1.3" fill="none"/>
<polygon points="441.8,1781.6 432.6,1770.4 428.4,1776.3" stroke="#000" stroke-width="0.5" fill="#000"/>
<text x="244.7" y="1819.0" font-size="17.5" textLength="160.6" lengthAdjust="spacingAndGlyphs" stroke="#fff" stroke-width="0.32">10’  ELEC.,  GAS,  TELE.</text>
<text x="253.1" y="1839.5" font-size="17.5" textLength="140.4" lengthAdjust="spacingAndGlyphs" stroke="#fff" stroke-width="0.32">&amp;  CATV  EASEMENT</text>
<path d="M395.5,1833 L405,1833 C415,1830 420,1815 427,1800 L435,1790" stroke="#000" stroke-width="1.3" fill="none"/>
<polygon points="439.0,1785.3 428.7,1795.5 434.9,1799.2" stroke="#000" stroke-width="0.5" fill="#000"/>
<path d="M405,1833 C415,1836 422,1850 430,1865 L436,1874" stroke="#000" stroke-width="1.3" fill="none"/>
<polygon points="440.4,1881.6 436.4,1867.7 430.2,1871.4" stroke="#000" stroke-width="0.5" fill="#000"/>
<text x="547.9" y="1751.6" font-size="17.5" textLength="37.1" lengthAdjust="spacingAndGlyphs" stroke="#fff" stroke-width="0.32">CATV</text>
<text x="530.2" y="1769.3" font-size="17.5" textLength="71.0" lengthAdjust="spacingAndGlyphs" stroke="#fff" stroke-width="0.32">PEDESTAL</text>
<path d="M601.2,1764.5 L608,1765 C615,1768 620,1780 625,1790 L636,1806" stroke="#000" stroke-width="1.3" fill="none"/>
<polygon points="641.0,1811.0 637.3,1798.0 631.1,1801.8" stroke="#000" stroke-width="0.5" fill="#000"/>
<circle cx="643.8" cy="1816.8" r="6.8" fill="none" stroke="#000" stroke-width="1.5"/>
<text x="498.8" y="1803.0" font-size="17.5" textLength="35.1" lengthAdjust="spacingAndGlyphs" stroke="#fff" stroke-width="0.32">TELE.</text>
<text x="480.5" y="1821.8" font-size="17.5" textLength="70.8" lengthAdjust="spacingAndGlyphs" stroke="#fff" stroke-width="0.32">PEDESTAL</text>
<path d="M551.3,1816.5 C570,1818 585,1822 598,1826" stroke="#000" stroke-width="1.3" fill="none"/>
<polygon points="602.5,1827.0 590.6,1820.7 589.0,1827.7" stroke="#000" stroke-width="0.5" fill="#000"/>
<circle cx="609.3" cy="1827.5" r="6.8" fill="none" stroke="#000" stroke-width="1.5"/>
<text x="530.2" y="1850.7" font-size="17.5" textLength="37.9" lengthAdjust="spacingAndGlyphs" stroke="#fff" stroke-width="0.32">ELEC.</text>
<text x="535.8" y="1868.0" font-size="17.5" textLength="27.2" lengthAdjust="spacingAndGlyphs" stroke="#fff" stroke-width="0.32">BOX</text>
<path d="M565,1863 C585,1862 600,1855 615,1849" stroke="#000" stroke-width="1.3" fill="none"/>
<polygon points="622.0,1846.0 608.5,1847.0 611.0,1853.8" stroke="#000" stroke-width="0.5" fill="#000"/>
<rect x="625.8" y="1839.5" width="7.8" height="10.5" stroke="#000" stroke-width="1.5" fill="none"/>
<polygon points="584.5,1886.0 617.0,1910.6 617.0,1886.0 584.5,1910.6" stroke="#000" stroke-width="1.6" fill="none"/>
<polygon points="625.7,1886.0 658.2,1910.6 658.2,1886.0 625.7,1910.6" stroke="#000" stroke-width="1.6" fill="none"/>
<polygon points="1074.7,1877.4 1106.2,1902.4 1106.2,1877.4 1074.7,1902.4" stroke="#000" stroke-width="1.6" fill="none"/>
<text x="600.7" y="1925.8" font-size="14.5" text-anchor="middle" textLength="27.0" lengthAdjust="spacingAndGlyphs" font-weight="bold">WM.</text>
<text x="642.0" y="1925.8" font-size="14.5" text-anchor="middle" textLength="27.0" lengthAdjust="spacingAndGlyphs" font-weight="bold">WM.</text>
<text x="1090.7" y="1918.5" font-size="14.5" text-anchor="middle" textLength="28.0" lengthAdjust="spacingAndGlyphs" font-weight="bold">WM.</text>
<polygon points="641.6,1713.0 634.6,1752.5 648.6,1752.5" stroke="#000" stroke-width="0.5" fill="#000"/>
<line x1="641.6" y1="1752.5" x2="641.6" y2="1804.6" stroke="#000" stroke-width="2"/>
<text x="660.0" y="1758.0" font-size="20" text-anchor="middle" textLength="40.0" lengthAdjust="spacingAndGlyphs" font-weight="bold" font-style="italic" transform="rotate(-90 660.0 1758.0)" dominant-baseline="central">CUT</text>
<polygon points="1050.0,1721.0 1043.0,1762.0 1057.0,1762.0" stroke="#000" stroke-width="0.5" fill="#000"/>
<line x1="1050.0" y1="1762.0" x2="1050.0" y2="1815.0" stroke="#000" stroke-width="2"/>
<text x="1033.0" y="1747.0" font-size="20" text-anchor="middle" textLength="40.0" lengthAdjust="spacingAndGlyphs" font-weight="bold" font-style="italic" transform="rotate(-90 1033.0 1747.0)" dominant-baseline="central">CUT</text>
<text x="721.5" y="1802.3" font-size="17.5" text-anchor="middle" textLength="63.0" lengthAdjust="spacingAndGlyphs" stroke="#fff" stroke-width="0.32">4’  CONC.</text>
<text x="720.6" y="1817.5" font-size="17.5" text-anchor="middle" textLength="36.0" lengthAdjust="spacingAndGlyphs" stroke="#fff" stroke-width="0.32">WALK</text>
<path d="M740.5,1812 L758,1811 C765,1808 767,1800 767.5,1790 L767.6,1752" stroke="#000" stroke-width="1.3" fill="none"/>
<polygon points="767.6,1740.0 764.0,1753.0 771.2,1753.0" stroke="#000" stroke-width="0.5" fill="#000"/>
<text x="885.0" y="1810.3" font-size="17" text-anchor="middle" textLength="32.3" lengthAdjust="spacingAndGlyphs" stroke="#fff" stroke-width="0.31">16.3’</text>
<text x="885.8" y="1827.2" font-size="17" text-anchor="middle" textLength="41.6" lengthAdjust="spacingAndGlyphs" stroke="#fff" stroke-width="0.31">CONC.</text>
<text x="885.4" y="1845.3" font-size="17" text-anchor="middle" textLength="38.8" lengthAdjust="spacingAndGlyphs" stroke="#fff" stroke-width="0.31">DRIVE</text>
<text x="825.3" y="1823.0" font-size="16" textLength="38.0" lengthAdjust="spacingAndGlyphs" transform="rotate(-90 825.3 1823.0)" stroke="#fff" stroke-width="0.29">4.1%</text>
<text x="847.0" y="1828.3" font-size="16" textLength="43.0" lengthAdjust="spacingAndGlyphs" transform="rotate(-90 847.0 1828.3)" stroke="#fff" stroke-width="0.29">SLOPE</text>
<polyline points="830.0,1785.0 830.0,1852.0 819.0,1836.0 830.0,1836.0" stroke="#000" stroke-width="1.3" fill="none"/>
<text x="935.5" y="1823.0" font-size="16" textLength="38.0" lengthAdjust="spacingAndGlyphs" transform="rotate(-90 935.5 1823.0)" stroke="#fff" stroke-width="0.29">4.1%</text>
<text x="955.3" y="1828.3" font-size="16" textLength="43.0" lengthAdjust="spacingAndGlyphs" transform="rotate(-90 955.3 1828.3)" stroke="#fff" stroke-width="0.29">SLOPE</text>
<polyline points="940.0,1785.0 940.0,1852.0 929.0,1836.0 940.0,1836.0" stroke="#000" stroke-width="1.3" fill="none"/>
<line x1="787.4" y1="1718.0" x2="787.4" y2="1808.0" stroke="#000" stroke-width="1.2"/>
<line x1="787.4" y1="1848.0" x2="787.4" y2="1940.0" stroke="#000" stroke-width="1.2"/>
<polygon points="787.4,1716.5 784.0,1730.5 790.8,1730.5" stroke="#000" stroke-width="0.5" fill="#000"/>
<polygon points="787.4,1940.5 790.8,1926.5 784.0,1926.5" stroke="#000" stroke-width="0.5" fill="#000"/>
<text x="787.4" y="1828.3" font-size="17" text-anchor="middle" textLength="40.0" lengthAdjust="spacingAndGlyphs" transform="rotate(-90 787.4 1828.3)" stroke="#fff" stroke-width="0.31" dominant-baseline="central">22.6’</text>
<line x1="987.5" y1="1720.0" x2="987.5" y2="1775.0" stroke="#000" stroke-width="1.2"/>
<line x1="987.5" y1="1818.0" x2="987.5" y2="1872.0" stroke="#000" stroke-width="1.2"/>
<polygon points="987.5,1717.5 984.1,1731.5 990.9,1731.5" stroke="#000" stroke-width="0.5" fill="#000"/>
<polygon points="987.5,1872.5 990.9,1858.5 984.1,1858.5" stroke="#000" stroke-width="0.5" fill="#000"/>
<text x="988.5" y="1796.8" font-size="17" text-anchor="middle" textLength="38.0" lengthAdjust="spacingAndGlyphs" transform="rotate(-90 988.5 1796.8)" stroke="#fff" stroke-width="0.31" dominant-baseline="central">16.0’</text>
<line x1="623.0" y1="1942.7" x2="787.4" y2="1942.7" stroke="#000" stroke-width="1.8"/>
<line x1="982.4" y1="1934.0" x2="1069.0" y2="1932.0" stroke="#000" stroke-width="1.8"/>
<text x="712.2" y="1972.7" font-size="17" text-anchor="middle" textLength="113.0" lengthAdjust="spacingAndGlyphs" stroke="#fff" stroke-width="0.31">4’  CONC.  WALK</text>
<line x1="626.8" y1="1983.0" x2="1072.6" y2="1974.0" stroke="#000" stroke-width="2"/>
<line x1="626.8" y1="1990.0" x2="1072.6" y2="1981.0" stroke="#000" stroke-width="2"/>
<line x1="623.5" y1="1979.5" x2="630.5" y2="1986.5" stroke="#000" stroke-width="1.3"/>
<line x1="623.5" y1="1986.5" x2="630.5" y2="1979.5" stroke="#000" stroke-width="1.3"/>
<line x1="623.5" y1="1986.5" x2="630.5" y2="1993.5" stroke="#000" stroke-width="1.3"/>
<line x1="623.5" y1="1993.5" x2="630.5" y2="1986.5" stroke="#000" stroke-width="1.3"/>
<line x1="808.1" y1="1976.5" x2="815.1" y2="1983.5" stroke="#000" stroke-width="1.3"/>
<line x1="808.1" y1="1983.5" x2="815.1" y2="1976.5" stroke="#000" stroke-width="1.3"/>
<line x1="808.1" y1="1983.5" x2="815.1" y2="1990.5" stroke="#000" stroke-width="1.3"/>
<line x1="808.1" y1="1990.5" x2="815.1" y2="1983.5" stroke="#000" stroke-width="1.3"/>
<line x1="1069.1" y1="1970.5" x2="1076.1" y2="1977.5" stroke="#000" stroke-width="1.3"/>
<line x1="1069.1" y1="1977.5" x2="1076.1" y2="1970.5" stroke="#000" stroke-width="1.3"/>
<line x1="1069.1" y1="1977.5" x2="1076.1" y2="1984.5" stroke="#000" stroke-width="1.3"/>
<line x1="1069.1" y1="1984.5" x2="1076.1" y2="1977.5" stroke="#000" stroke-width="1.3"/>
<text x="713.5" y="2009.6" font-size="15.5" text-anchor="middle" textLength="38.5" lengthAdjust="spacingAndGlyphs" stroke="#fff" stroke-width="0.28">CURB</text>
<text x="603.6" y="2025.7" font-size="13" text-anchor="middle" dominant-baseline="central" textLength="51" lengthAdjust="spacingAndGlyphs" transform="rotate(-54 603.6 2025.7)">T.O.C.=</text>
<text x="619.0" y="2026.7" font-size="13" text-anchor="middle" dominant-baseline="central" textLength="53" lengthAdjust="spacingAndGlyphs" transform="rotate(-54 619.0 2026.7)">605.99</text>
<text x="633.6" y="2029.6" font-size="13" text-anchor="middle" dominant-baseline="central" textLength="45" lengthAdjust="spacingAndGlyphs" transform="rotate(-54 633.6 2029.6)">GUT.=</text>
<text x="651.7" y="2030.6" font-size="13" text-anchor="middle" dominant-baseline="central" textLength="53" lengthAdjust="spacingAndGlyphs" transform="rotate(-54 651.7 2030.6)">605.39</text>
<text x="787.0" y="2024.2" font-size="13" text-anchor="middle" dominant-baseline="central" textLength="54" lengthAdjust="spacingAndGlyphs" transform="rotate(-54 787.0 2024.2)">T.O.C.=</text>
<text x="803.5" y="2025.2" font-size="13" text-anchor="middle" dominant-baseline="central" textLength="50" lengthAdjust="spacingAndGlyphs" transform="rotate(-54 803.5 2025.2)">606.01</text>
<text x="815.6" y="2029.7" font-size="13" text-anchor="middle" dominant-baseline="central" textLength="40" lengthAdjust="spacingAndGlyphs" transform="rotate(-54 815.6 2029.7)">GUT.=</text>
<text x="838.6" y="2022.7" font-size="13" text-anchor="middle" dominant-baseline="central" textLength="53.7" lengthAdjust="spacingAndGlyphs" transform="rotate(-54 838.6 2022.7)">605.46</text>
<text x="1036.0" y="2021.2" font-size="13" text-anchor="middle" dominant-baseline="central" textLength="54" lengthAdjust="spacingAndGlyphs" transform="rotate(-54 1036.0 2021.2)">T.O.C.=</text>
<text x="1052.5" y="2022.2" font-size="13" text-anchor="middle" dominant-baseline="central" textLength="50" lengthAdjust="spacingAndGlyphs" transform="rotate(-54 1052.5 2022.2)">606.02</text>
<text x="1064.6" y="2026.7" font-size="13" text-anchor="middle" dominant-baseline="central" textLength="40" lengthAdjust="spacingAndGlyphs" transform="rotate(-54 1064.6 2026.7)">GUT.=</text>
<text x="1087.6" y="2019.7" font-size="13" text-anchor="middle" dominant-baseline="central" textLength="53.7" lengthAdjust="spacingAndGlyphs" transform="rotate(-54 1087.6 2019.7)">605.46</text>
<path d="M568.7,2008.5 L592.7,2008.5 C610,2006 620,1995 630,1975 C645,1945 660,1920 684,1891" stroke="#000" stroke-width="1.5" fill="none"/>
<polygon points="690.0,1884.0 677.8,1891.8 683.4,1896.9" stroke="#000" stroke-width="0.5" fill="#000"/>
<path d="M900.2,2108.6 C930,2108 945,2095 943,2060 C941,2020 925,1960 905,1897" stroke="#000" stroke-width="1.5" fill="none"/>
<polygon points="903.0,1884.0 901.2,1898.4 908.7,1897.3" stroke="#000" stroke-width="0.5" fill="#000"/>
<path d="M1135.3,1948.6 L1121,1948.6 C1100,1945 1085,1930 1070,1915 C1055,1900 1045,1890 1038,1882" stroke="#000" stroke-width="1.5" fill="none"/>
<polygon points="1033.0,1877.0 1040.2,1889.6 1045.6,1884.2" stroke="#000" stroke-width="0.5" fill="#000"/>
<text x="555.0" y="1945.5" font-size="23.5" text-anchor="end" textLength="141.7" lengthAdjust="spacingAndGlyphs" stroke="#fff" stroke-width="0.42">Δ  =1°05′39″</text>
<text x="555.0" y="1974.9" font-size="23.5" text-anchor="end" textLength="139.0" lengthAdjust="spacingAndGlyphs" stroke="#fff" stroke-width="0.42">R=1360.00’</text>
<text x="555.0" y="2004.3" font-size="23.5" text-anchor="end" textLength="109.6" lengthAdjust="spacingAndGlyphs" stroke="#fff" stroke-width="0.42">L=25.97’</text>
<text x="555.0" y="2032.6" font-size="23.5" text-anchor="end" textLength="129.9" lengthAdjust="spacingAndGlyphs" stroke="#fff" stroke-width="0.42">CHD  BRG=</text>
<text x="555.0" y="2061.5" font-size="23.5" text-anchor="end" textLength="167.4" lengthAdjust="spacingAndGlyphs" stroke="#fff" stroke-width="0.42">N  0°32′49″  W</text>
<text x="555.0" y="2090.9" font-size="23.5" text-anchor="end" textLength="208.6" lengthAdjust="spacingAndGlyphs" stroke="#fff" stroke-width="0.42">CHD  DIST=25.97’</text>
<line x1="563.3" y1="1929.0" x2="563.3" y2="2090.0" stroke="#000" stroke-width="1.5"/>
<line x1="568.7" y1="1937.0" x2="568.7" y2="2082.0" stroke="#000" stroke-width="1.5"/>
<text x="860.1" y="2167.4" font-size="31" text-anchor="middle" textLength="353.0" lengthAdjust="spacingAndGlyphs" stroke="#fff" stroke-width="0.56">CHAVANEAUX  LNDG</text>
<line x1="624.8" y1="2178.0" x2="710.4" y2="2177.5" stroke="#000" stroke-width="1.8"/>
<line x1="739.8" y1="2177.2" x2="763.9" y2="2177.0" stroke="#000" stroke-width="1.8"/>
<line x1="790.6" y1="2176.8" x2="1084.7" y2="2172.7" stroke="#000" stroke-width="1.8"/>
<text x="860.9" y="2211.8" font-size="26" text-anchor="middle" textLength="146.0" lengthAdjust="spacingAndGlyphs" stroke="#fff" stroke-width="0.47">(50’  R.O.W.)</text>
<line x1="66.0" y1="2143.6" x2="426.5" y2="2143.6" stroke="#222" stroke-width="2"/>
<line x1="426.5" y1="2143.6" x2="426.5" y2="2734.0" stroke="#6e6e6e" stroke-width="2"/>
<line x1="66.0" y1="2175.1" x2="426.5" y2="2175.1" stroke="#222" stroke-width="2"/>
<line x1="66.0" y1="2206.9" x2="426.5" y2="2206.9" stroke="#6e6e6e" stroke-width="2"/>
<line x1="66.0" y1="2237.7" x2="426.5" y2="2237.7" stroke="#6e6e6e" stroke-width="2"/>
<line x1="66.0" y1="2269.0" x2="426.5" y2="2269.0" stroke="#6e6e6e" stroke-width="2"/>
<line x1="66.0" y1="2300.0" x2="426.5" y2="2300.0" stroke="#6e6e6e" stroke-width="2"/>
<line x1="66.0" y1="2331.5" x2="426.5" y2="2331.5" stroke="#6e6e6e" stroke-width="2"/>
<line x1="66.0" y1="2362.8" x2="426.5" y2="2362.8" stroke="#6e6e6e" stroke-width="2"/>
<line x1="66.0" y1="2393.8" x2="426.5" y2="2393.8" stroke="#6e6e6e" stroke-width="2"/>
<line x1="66.0" y1="2425.4" x2="426.5" y2="2425.4" stroke="#6e6e6e" stroke-width="2"/>
<line x1="66.0" y1="2456.6" x2="426.5" y2="2456.6" stroke="#6e6e6e" stroke-width="2"/>
<line x1="66.0" y1="2487.9" x2="426.5" y2="2487.9" stroke="#6e6e6e" stroke-width="2"/>
<line x1="66.0" y1="2518.7" x2="426.5" y2="2518.7" stroke="#6e6e6e" stroke-width="2"/>
<line x1="66.0" y1="2550.0" x2="426.5" y2="2550.0" stroke="#6e6e6e" stroke-width="2"/>
<line x1="66.0" y1="2581.6" x2="426.5" y2="2581.6" stroke="#6e6e6e" stroke-width="2"/>
<line x1="66.0" y1="2612.9" x2="426.5" y2="2612.9" stroke="#6e6e6e" stroke-width="2"/>
<line x1="66.0" y1="2643.9" x2="426.5" y2="2643.9" stroke="#6e6e6e" stroke-width="2"/>
<line x1="66.0" y1="2675.2" x2="426.5" y2="2675.2" stroke="#6e6e6e" stroke-width="2"/>
<line x1="66.0" y1="2706.4" x2="426.5" y2="2706.4" stroke="#6e6e6e" stroke-width="2"/>
<line x1="296.1" y1="2175.1" x2="296.1" y2="2734.0" stroke="#6e6e6e" stroke-width="2"/>
<text x="242.7" y="2166.5" font-size="26" text-anchor="middle" textLength="105.0" lengthAdjust="spacingAndGlyphs" fill="#fff" stroke="#000" stroke-width="0.9">A R E A S</text>
<text x="75.9" y="2199.9" font-size="25.5" textLength="95.1" lengthAdjust="spacingAndGlyphs" stroke="#fff" stroke-width="0.46">DRIVEWAY</text>
<text x="422.6" y="2199.9" font-size="25.5" text-anchor="end" textLength="106.1" lengthAdjust="spacingAndGlyphs" stroke="#fff" stroke-width="0.46">265 SQ. FT.</text>
<text x="75.9" y="2231.7" font-size="25.5" textLength="102.2" lengthAdjust="spacingAndGlyphs" stroke="#fff" stroke-width="0.46">APPROACH</text>
<text x="422.6" y="2231.7" font-size="25.5" text-anchor="end" textLength="104.8" lengthAdjust="spacingAndGlyphs" stroke="#fff" stroke-width="0.46">197 SQ. FT.</text>
<text x="75.9" y="2262.5" font-size="25.5" textLength="108.2" lengthAdjust="spacingAndGlyphs" stroke="#fff" stroke-width="0.46">LEAD WALK</text>
<text x="422.6" y="2262.5" font-size="25.5" text-anchor="end" textLength="104.8" lengthAdjust="spacingAndGlyphs" stroke="#fff" stroke-width="0.46">105 SQ. FT.</text>
<text x="75.9" y="2293.8" font-size="25.5" textLength="128.3" lengthAdjust="spacingAndGlyphs" stroke="#fff" stroke-width="0.46">PUBLIC WALK</text>
<text x="422.6" y="2293.8" font-size="25.5" text-anchor="end" textLength="105.6" lengthAdjust="spacingAndGlyphs" stroke="#fff" stroke-width="0.46">101 SQ. FT.</text>
<text x="75.9" y="2324.8" font-size="25.5" textLength="52.9" lengthAdjust="spacingAndGlyphs" stroke="#fff" stroke-width="0.46">PATIO</text>
<text x="422.6" y="2324.8" font-size="25.5" text-anchor="end" textLength="31.3" lengthAdjust="spacingAndGlyphs" stroke="#fff" stroke-width="0.46">N/A</text>
<text x="75.9" y="2356.3" font-size="25.5" textLength="107.7" lengthAdjust="spacingAndGlyphs" stroke="#fff" stroke-width="0.46">HVAC PADS</text>
<text x="422.6" y="2356.3" font-size="25.5" text-anchor="end" textLength="93.0" lengthAdjust="spacingAndGlyphs" stroke="#fff" stroke-width="0.46">16 SQ. FT.</text>
<text x="75.9" y="2387.6" font-size="25.5" textLength="57.9" lengthAdjust="spacingAndGlyphs" stroke="#fff" stroke-width="0.46">TOTAL</text>
<text x="422.6" y="2387.6" font-size="25.5" text-anchor="end" textLength="106.1" lengthAdjust="spacingAndGlyphs" stroke="#fff" stroke-width="0.46">684 SQ. FT.</text>
<text x="75.9" y="2450.2" font-size="25.5" textLength="107.4" lengthAdjust="spacingAndGlyphs" stroke="#fff" stroke-width="0.46">FRONT SOD</text>
<text x="422.6" y="2450.2" font-size="25.5" text-anchor="end" textLength="104.8" lengthAdjust="spacingAndGlyphs" stroke="#fff" stroke-width="0.46">188 SQ. YD.</text>
<text x="75.9" y="2481.4" font-size="25.5" textLength="94.4" lengthAdjust="spacingAndGlyphs" stroke="#fff" stroke-width="0.46">REAR SOD</text>
<text x="422.6" y="2481.4" font-size="25.5" text-anchor="end" textLength="106.1" lengthAdjust="spacingAndGlyphs" stroke="#fff" stroke-width="0.46">200 SQ. YD.</text>
<text x="75.9" y="2543.5" font-size="25.5" textLength="124.3" lengthAdjust="spacingAndGlyphs" stroke="#fff" stroke-width="0.46">TOTAL FENCE</text>
<text x="422.6" y="2543.5" font-size="25.5" text-anchor="end" textLength="105.6" lengthAdjust="spacingAndGlyphs" stroke="#fff" stroke-width="0.46">143 LN. FT.</text>
<text x="75.9" y="2606.4" font-size="25.5" textLength="191.3" lengthAdjust="spacingAndGlyphs" stroke="#fff" stroke-width="0.46">AVERAGE EXPOSURE</text>
<text x="422.6" y="2606.4" font-size="25.5" text-anchor="end" textLength="29.2" lengthAdjust="spacingAndGlyphs" stroke="#fff" stroke-width="0.46">26"</text>
<text x="75.9" y="2637.7" font-size="25.5" textLength="121.2" lengthAdjust="spacingAndGlyphs" stroke="#fff" stroke-width="0.46">DRIVE SLOPE</text>
<text x="422.6" y="2637.7" font-size="25.5" text-anchor="end" textLength="44.8" lengthAdjust="spacingAndGlyphs" stroke="#fff" stroke-width="0.46">4.1%</text>
<text x="75.9" y="2668.7" font-size="25.5" textLength="102.2" lengthAdjust="spacingAndGlyphs" stroke="#fff" stroke-width="0.46">SLAB AREA</text>
<text x="422.6" y="2668.7" font-size="25.5" text-anchor="end" textLength="122.5" lengthAdjust="spacingAndGlyphs" stroke="#fff" stroke-width="0.46">1,778 SQ. FT.</text>
<text x="75.9" y="2700.0" font-size="25.5" textLength="89.2" lengthAdjust="spacingAndGlyphs" stroke="#fff" stroke-width="0.46">LOT AREA</text>
<text x="422.6" y="2700.0" font-size="25.5" text-anchor="end" textLength="123.3" lengthAdjust="spacingAndGlyphs" stroke="#fff" stroke-width="0.46">5,486 SQ. FT.</text>
<text x="752.0" y="2390.7" font-size="23" text-anchor="middle" textLength="193.6" lengthAdjust="spacingAndGlyphs" font-family='"Liberation Serif", serif' font-style="italic" stroke="#000" stroke-width="0.5">SITE  PLAN  OF</text>
<text x="751.6" y="2418.0" font-size="23" text-anchor="middle" textLength="331.3" lengthAdjust="spacingAndGlyphs" font-family='"Liberation Serif", serif' font-style="italic" stroke="#000" stroke-width="0.5">9911  CHAVANEAUX  LNDG</text>
<text x="752.0" y="2445.0" font-size="23" text-anchor="middle" textLength="234.8" lengthAdjust="spacingAndGlyphs" font-family='"Liberation Serif", serif' font-style="italic" stroke="#000" stroke-width="0.5">LOT  46,  BLOCK  7</text>
<text x="752.7" y="2470.4" font-size="23" text-anchor="middle" textLength="324.6" lengthAdjust="spacingAndGlyphs" font-family='"Liberation Serif", serif' font-style="italic" stroke="#000" stroke-width="0.5">NEW  CITY  BLOCK  14850</text>
<text x="750.1" y="2504.1" font-size="34" text-anchor="middle" textLength="496.8" lengthAdjust="spacingAndGlyphs" font-family='"Liberation Serif", serif' font-style="italic">CHAVANEAUX  SUBDIVISION</text>
<text x="751.5" y="2539.7" font-size="34" text-anchor="middle" textLength="131.0" lengthAdjust="spacingAndGlyphs" font-family='"Liberation Serif", serif' font-style="italic">UNIT  3</text>
<text x="751.8" y="2568.9" font-size="23" text-anchor="middle" textLength="302.4" lengthAdjust="spacingAndGlyphs" font-family='"Liberation Serif", serif' font-style="italic" stroke="#000" stroke-width="0.5">CITY  OF  SAN  ANTONIO</text>
<text x="752.4" y="2595.0" font-size="23" text-anchor="middle" textLength="312.7" lengthAdjust="spacingAndGlyphs" font-family='"Liberation Serif", serif' font-style="italic" stroke="#000" stroke-width="0.5">BEXAR  COUNTY,  TEXAS</text>
<text x="665.3" y="2635.2" font-size="20" textLength="108.6" lengthAdjust="spacingAndGlyphs" stroke="#fff" stroke-width="0.36">DRAWN  BY:</text>
<text x="802.7" y="2633.5" font-size="20" textLength="38.6" lengthAdjust="spacingAndGlyphs" stroke="#fff" stroke-width="0.36">D.D.</text>
<line x1="786.2" y1="2637.5" x2="853.6" y2="2637.5" stroke="#000" stroke-width="1.5"/>
<text x="664.6" y="2662.5" font-size="20" textLength="133.6" lengthAdjust="spacingAndGlyphs" stroke="#fff" stroke-width="0.36">CHECKED  BY:</text>
<text x="826.3" y="2661.0" font-size="20" textLength="36.3" lengthAdjust="spacingAndGlyphs" stroke="#fff" stroke-width="0.36">W.J.</text>
<line x1="810.2" y1="2665.3" x2="877.6" y2="2665.3" stroke="#000" stroke-width="1.5"/>
<text x="665.3" y="2691.3" font-size="20" textLength="50.6" lengthAdjust="spacingAndGlyphs" stroke="#fff" stroke-width="0.36">DATE:</text>
<text x="741.3" y="2689.5" font-size="20" textLength="126.2" lengthAdjust="spacingAndGlyphs" stroke="#fff" stroke-width="0.36">10/27/2025</text>
<line x1="727.8" y1="2693.0" x2="888.0" y2="2693.0" stroke="#000" stroke-width="1.5"/>
<path d="M1120.4,2681.8 A110.7,110.7 0 1,1 1272.4,2682.2 L1256.8,2665.6 A88,88 0 1,0 1136.0,2665.3 Z" stroke="#000" stroke-width="1.4" fill="#df5b2e"/>
<path d="M1262.4,2690.5 A110.7,110.7 0 0,1 1130.8,2690.5 L1144.3,2672.2 A88,88 0 0,0 1248.9,2672.2 Z" stroke="#231f20" stroke-width="1.4" fill="#231f20"/>
<line x1="1055.2" y1="2606.0" x2="1634.0" y2="2606.0" stroke="#000" stroke-width="3.2"/>
<circle cx="1196.6" cy="2601.5" r="62.7" fill="none" stroke="#231f20" stroke-width="17.6"/>
<path d="M1217.7,2582.7 L1217.7,2563.7 L1176.5,2563.7 L1176.5,2598.7 L1217.7,2598.7 L1217.7,2636.8 L1176.5,2636.8 L1176.5,2618" stroke="#000" stroke-width="19.6" fill="none" stroke-linejoin="bevel"/>
<path d="M1217.7,2581.9 L1217.7,2563.7 L1176.5,2563.7 L1176.5,2598.7 L1217.7,2598.7 L1217.7,2636.8 L1176.5,2636.8 L1176.5,2618.8" stroke="#df5b2e" stroke-width="17" fill="none" stroke-linejoin="bevel"/>
<line x1="1197.1" y1="2467" x2="1197.1" y2="2736" stroke="#231f20" stroke-width="9.6" stroke-linecap="round"/>
<text x="1463.8" y="2564.3" font-size="27" text-anchor="middle" textLength="223.5" lengthAdjust="spacingAndGlyphs" stroke="#fff" stroke-width="0.49">SINCLAIR  LAND</text>
<text x="1469.8" y="2594.4" font-size="27" text-anchor="middle" textLength="243.5" lengthAdjust="spacingAndGlyphs" stroke="#fff" stroke-width="0.49">SURVEYING,  INC.</text>
<text x="1462.6" y="2630.5" font-size="21" text-anchor="middle" textLength="183.2" lengthAdjust="spacingAndGlyphs">3411  MAGIC  DRIVE</text>
<text x="1463.4" y="2651.8" font-size="21" text-anchor="middle" textLength="290.8" lengthAdjust="spacingAndGlyphs">SAN  ANTONIO,  TEXAS  78229</text>
<text x="1462.8" y="2673.5" font-size="21" text-anchor="middle" textLength="149.2" lengthAdjust="spacingAndGlyphs">210–341–4518</text>
<text x="1463.8" y="2692.7" font-size="21" text-anchor="middle" textLength="271.6" lengthAdjust="spacingAndGlyphs">TBPELS  FIRM  NO.10089000</text>
<text x="1464.2" y="2715.6" font-size="21" text-anchor="middle" textLength="289.2" lengthAdjust="spacingAndGlyphs">JOB  NUMBER:  S–202583934</text>
</svg>
</body></html>
